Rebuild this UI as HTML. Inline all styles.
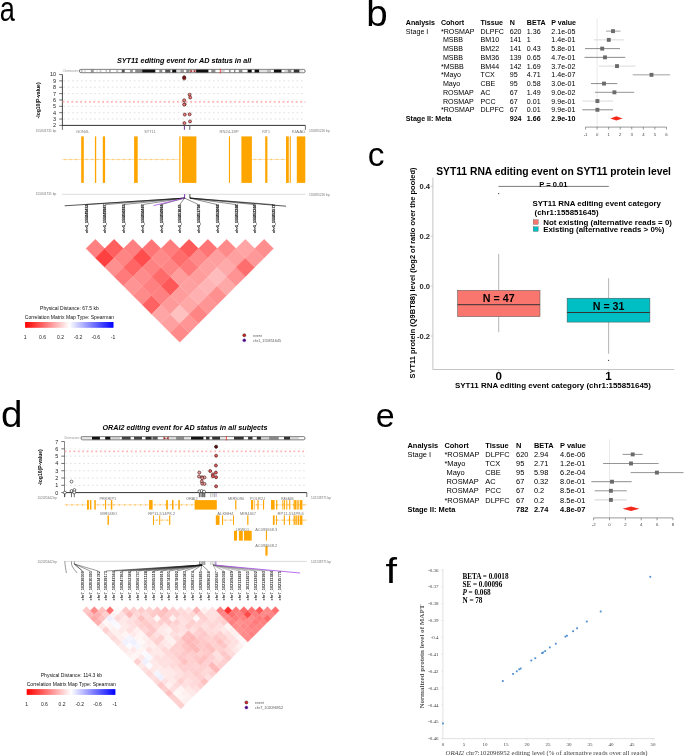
<!DOCTYPE html>
<html><head><meta charset="utf-8"><style>
html,body{margin:0;padding:0;background:#fff;overflow:hidden}
svg{display:block;filter:blur(0.22px);font-family:"Liberation Sans",sans-serif}
</style></head><body>
<svg width="685" height="756" viewBox="0 0 685 756">
<rect width="685" height="756" fill="#fff"/>
<text transform="translate(-0.3,21) scale(0.77,1)" font-size="35.3">a</text>
<text transform="translate(366.3,26.3) scale(1.07,1)" font-size="36">b</text>
<text x="367.8" y="166.3" font-size="33.5">c</text>
<text transform="translate(0.9,427.4) scale(1.07,1)" font-size="36">d</text>
<text x="375.8" y="427.3" font-size="34">e</text>
<text transform="translate(385.6,583) scale(1.15,1)" font-size="36">f</text>
<text x="405.8" y="24.96" font-size="7.1" font-weight="bold">Analysis</text>
<text x="440.9" y="24.96" font-size="7.1" font-weight="bold">Cohort</text>
<text x="480.6" y="24.96" font-size="7.1" font-weight="bold">Tissue</text>
<text x="509.7" y="24.96" font-size="7.1" font-weight="bold">N</text>
<text x="526.8" y="24.96" font-size="7.1" font-weight="bold">BETA</text>
<text x="551.3" y="24.96" font-size="7.1" font-weight="bold">P value</text>
<text x="405.8" y="33.7" font-size="7.1">Stage I</text>
<text x="440.9" y="33.7" font-size="7.1">*ROSMAP</text>
<text x="480.6" y="33.7" font-size="7.1">DLPFC</text>
<text x="509.7" y="33.7" font-size="7.1">620</text>
<text x="526.8" y="33.7" font-size="7.1">1.36</text>
<text x="551.3" y="33.7" font-size="7.1">2.1e-05</text>
<text x="442.89" y="42.44" font-size="7.1">MSBB</text>
<text x="480.6" y="42.44" font-size="7.1">BM10</text>
<text x="509.7" y="42.44" font-size="7.1">141</text>
<text x="526.8" y="42.44" font-size="7.1">1</text>
<text x="551.3" y="42.44" font-size="7.1">1.4e-01</text>
<text x="442.89" y="51.18" font-size="7.1">MSBB</text>
<text x="480.6" y="51.18" font-size="7.1">BM22</text>
<text x="509.7" y="51.18" font-size="7.1">141</text>
<text x="526.8" y="51.18" font-size="7.1">0.43</text>
<text x="551.3" y="51.18" font-size="7.1">5.8e-01</text>
<text x="442.89" y="59.92" font-size="7.1">MSBB</text>
<text x="480.6" y="59.92" font-size="7.1">BM36</text>
<text x="509.7" y="59.92" font-size="7.1">139</text>
<text x="526.8" y="59.92" font-size="7.1">0.65</text>
<text x="551.3" y="59.92" font-size="7.1">4.7e-01</text>
<text x="440.9" y="68.66" font-size="7.1">*MSBB</text>
<text x="480.6" y="68.66" font-size="7.1">BM44</text>
<text x="509.7" y="68.66" font-size="7.1">142</text>
<text x="526.8" y="68.66" font-size="7.1">1.69</text>
<text x="551.3" y="68.66" font-size="7.1">3.7e-02</text>
<text x="440.9" y="77.4" font-size="7.1">*Mayo</text>
<text x="480.6" y="77.4" font-size="7.1">TCX</text>
<text x="509.7" y="77.4" font-size="7.1">95</text>
<text x="526.8" y="77.4" font-size="7.1">4.71</text>
<text x="551.3" y="77.4" font-size="7.1">1.4e-07</text>
<text x="442.89" y="86.14" font-size="7.1">Mayo</text>
<text x="480.6" y="86.14" font-size="7.1">CBE</text>
<text x="509.7" y="86.14" font-size="7.1">95</text>
<text x="526.8" y="86.14" font-size="7.1">0.58</text>
<text x="551.3" y="86.14" font-size="7.1">3.0e-01</text>
<text x="442.89" y="94.88" font-size="7.1">ROSMAP</text>
<text x="480.6" y="94.88" font-size="7.1">AC</text>
<text x="509.7" y="94.88" font-size="7.1">67</text>
<text x="526.8" y="94.88" font-size="7.1">1.49</text>
<text x="551.3" y="94.88" font-size="7.1">9.0e-02</text>
<text x="442.89" y="103.62" font-size="7.1">ROSMAP</text>
<text x="480.6" y="103.62" font-size="7.1">PCC</text>
<text x="509.7" y="103.62" font-size="7.1">67</text>
<text x="526.8" y="103.62" font-size="7.1">0.01</text>
<text x="551.3" y="103.62" font-size="7.1">9.9e-01</text>
<text x="440.9" y="112.36" font-size="7.1">*ROSMAP</text>
<text x="480.6" y="112.36" font-size="7.1">DLPFC</text>
<text x="509.7" y="112.36" font-size="7.1">67</text>
<text x="526.8" y="112.36" font-size="7.1">0.01</text>
<text x="551.3" y="112.36" font-size="7.1">9.9e-01</text>
<text x="405.8" y="121.1" font-size="7.1" font-weight="bold">Stage II: Meta</text>
<text x="509.7" y="121.1" font-size="7.1" font-weight="bold">924</text>
<text x="526.8" y="121.1" font-size="7.1" font-weight="bold">1.66</text>
<text x="551.3" y="121.1" font-size="7.1" font-weight="bold">2.9e-10</text>
<line x1="597.1" y1="18.5" x2="597.1" y2="127.1" stroke="#d9d9d9" stroke-width="0.6"/>
<line x1="585.54" y1="127.1" x2="666.46" y2="127.1" stroke="#555" stroke-width="0.6"/>
<line x1="585.54" y1="127.1" x2="585.54" y2="129.5" stroke="#555" stroke-width="0.6"/>
<text x="585.54" y="135.5" font-size="4.3" text-anchor="middle" fill="#444">-1</text>
<line x1="597.1" y1="127.1" x2="597.1" y2="129.5" stroke="#555" stroke-width="0.6"/>
<text x="597.1" y="135.5" font-size="4.3" text-anchor="middle" fill="#444">0</text>
<line x1="608.66" y1="127.1" x2="608.66" y2="129.5" stroke="#555" stroke-width="0.6"/>
<text x="608.66" y="135.5" font-size="4.3" text-anchor="middle" fill="#444">1</text>
<line x1="620.22" y1="127.1" x2="620.22" y2="129.5" stroke="#555" stroke-width="0.6"/>
<text x="620.22" y="135.5" font-size="4.3" text-anchor="middle" fill="#444">2</text>
<line x1="631.78" y1="127.1" x2="631.78" y2="129.5" stroke="#555" stroke-width="0.6"/>
<text x="631.78" y="135.5" font-size="4.3" text-anchor="middle" fill="#444">3</text>
<line x1="643.34" y1="127.1" x2="643.34" y2="129.5" stroke="#555" stroke-width="0.6"/>
<text x="643.34" y="135.5" font-size="4.3" text-anchor="middle" fill="#444">4</text>
<line x1="654.9" y1="127.1" x2="654.9" y2="129.5" stroke="#555" stroke-width="0.6"/>
<text x="654.9" y="135.5" font-size="4.3" text-anchor="middle" fill="#444">5</text>
<line x1="666.46" y1="127.1" x2="666.46" y2="129.5" stroke="#555" stroke-width="0.6"/>
<text x="666.46" y="135.5" font-size="4.3" text-anchor="middle" fill="#444">6</text>
<line x1="606" y1="31.14" x2="620.4" y2="31.14" stroke="#8a8a8a" stroke-width="0.8"/>
<rect x="611.05" y="29.19" width="3.9" height="3.9" fill="#6b6b6b"/>
<line x1="594" y1="39.88" x2="624.3" y2="39.88" stroke="#cfcfcf" stroke-width="0.8"/>
<rect x="606.85" y="37.93" width="3.9" height="3.9" fill="#6b6b6b"/>
<line x1="585" y1="48.62" x2="620" y2="48.62" stroke="#6e6e6e" stroke-width="0.8"/>
<rect x="600.25" y="46.67" width="3.9" height="3.9" fill="#6b6b6b"/>
<line x1="584.5" y1="57.36" x2="625.3" y2="57.36" stroke="#6e6e6e" stroke-width="0.8"/>
<rect x="603.05" y="55.41" width="3.9" height="3.9" fill="#6b6b6b"/>
<line x1="598.9" y1="66.1" x2="635.3" y2="66.1" stroke="#cfcfcf" stroke-width="0.8"/>
<rect x="615.05" y="64.15" width="3.9" height="3.9" fill="#6b6b6b"/>
<line x1="632.7" y1="74.84" x2="670.2" y2="74.84" stroke="#8a8a8a" stroke-width="0.8"/>
<rect x="649.55" y="72.89" width="3.9" height="3.9" fill="#6b6b6b"/>
<line x1="591" y1="83.58" x2="617.3" y2="83.58" stroke="#6e6e6e" stroke-width="0.8"/>
<rect x="602.05" y="81.63" width="3.9" height="3.9" fill="#6b6b6b"/>
<line x1="595" y1="92.32" x2="634.2" y2="92.32" stroke="#7a7a7a" stroke-width="0.8"/>
<rect x="612.45" y="90.37" width="3.9" height="3.9" fill="#6b6b6b"/>
<line x1="582.3" y1="101.06" x2="613" y2="101.06" stroke="#cfcfcf" stroke-width="0.8"/>
<rect x="595.45" y="99.11" width="3.9" height="3.9" fill="#6b6b6b"/>
<line x1="582.3" y1="109.8" x2="613" y2="109.8" stroke="#6e6e6e" stroke-width="0.8"/>
<rect x="595.45" y="107.85" width="3.9" height="3.9" fill="#6b6b6b"/>
<polygon points="610.3,118.4 616.3,116.2 622.6,118.4 616.3,120.6" fill="#f4281b"/>
<text x="407.5" y="447.98" font-size="7.45" font-weight="bold">Analysis</text>
<text x="444.4" y="447.98" font-size="7.45" font-weight="bold">Cohort</text>
<text x="485.3" y="447.98" font-size="7.45" font-weight="bold">Tissue</text>
<text x="516.1" y="447.98" font-size="7.45" font-weight="bold">N</text>
<text x="533.9" y="447.98" font-size="7.45" font-weight="bold">BETA</text>
<text x="560.1" y="447.98" font-size="7.45" font-weight="bold">P value</text>
<text x="407.5" y="457.08" font-size="7.45">Stage I</text>
<text x="444.4" y="457.08" font-size="7.45">*ROSMAP</text>
<text x="485.3" y="457.08" font-size="7.45">DLPFC</text>
<text x="516.1" y="457.08" font-size="7.45">620</text>
<text x="533.9" y="457.08" font-size="7.45">2.94</text>
<text x="560.1" y="457.08" font-size="7.45">4.6e-06</text>
<text x="444.4" y="466.18" font-size="7.45">*Mayo</text>
<text x="485.3" y="466.18" font-size="7.45">TCX</text>
<text x="516.1" y="466.18" font-size="7.45">95</text>
<text x="533.9" y="466.18" font-size="7.45">2.71</text>
<text x="560.1" y="466.18" font-size="7.45">1.2e-01</text>
<text x="446.49" y="475.28" font-size="7.45">Mayo</text>
<text x="485.3" y="475.28" font-size="7.45">CBE</text>
<text x="516.1" y="475.28" font-size="7.45">95</text>
<text x="533.9" y="475.28" font-size="7.45">5.98</text>
<text x="560.1" y="475.28" font-size="7.45">6.2e-04</text>
<text x="446.49" y="484.38" font-size="7.45">ROSMAP</text>
<text x="485.3" y="484.38" font-size="7.45">AC</text>
<text x="516.1" y="484.38" font-size="7.45">67</text>
<text x="533.9" y="484.38" font-size="7.45">0.32</text>
<text x="560.1" y="484.38" font-size="7.45">8.0e-01</text>
<text x="446.49" y="493.48" font-size="7.45">ROSMAP</text>
<text x="485.3" y="493.48" font-size="7.45">PCC</text>
<text x="516.1" y="493.48" font-size="7.45">67</text>
<text x="533.9" y="493.48" font-size="7.45">0.2</text>
<text x="560.1" y="493.48" font-size="7.45">8.5e-01</text>
<text x="444.4" y="502.58" font-size="7.45">*ROSMAP</text>
<text x="485.3" y="502.58" font-size="7.45">DLPFC</text>
<text x="516.1" y="502.58" font-size="7.45">67</text>
<text x="533.9" y="502.58" font-size="7.45">0.2</text>
<text x="560.1" y="502.58" font-size="7.45">8.5e-01</text>
<text x="407.5" y="511.68" font-size="7.45" font-weight="bold">Stage II: Meta</text>
<text x="516.1" y="511.68" font-size="7.45" font-weight="bold">782</text>
<text x="533.9" y="511.68" font-size="7.45" font-weight="bold">2.74</text>
<text x="560.1" y="511.68" font-size="7.45" font-weight="bold">4.8e-07</text>
<line x1="609.5" y1="439.5" x2="609.5" y2="517.9" stroke="#d9d9d9" stroke-width="0.6"/>
<line x1="593.64" y1="517.9" x2="672.94" y2="517.9" stroke="#555" stroke-width="0.6"/>
<line x1="593.64" y1="517.9" x2="593.64" y2="520.3" stroke="#555" stroke-width="0.6"/>
<text x="593.64" y="526.3" font-size="4.3" text-anchor="middle" fill="#444">-2</text>
<line x1="609.5" y1="517.9" x2="609.5" y2="520.3" stroke="#555" stroke-width="0.6"/>
<text x="609.5" y="526.3" font-size="4.3" text-anchor="middle" fill="#444">0</text>
<line x1="625.36" y1="517.9" x2="625.36" y2="520.3" stroke="#555" stroke-width="0.6"/>
<text x="625.36" y="526.3" font-size="4.3" text-anchor="middle" fill="#444">2</text>
<line x1="641.22" y1="517.9" x2="641.22" y2="520.3" stroke="#555" stroke-width="0.6"/>
<text x="641.22" y="526.3" font-size="4.3" text-anchor="middle" fill="#444">4</text>
<line x1="657.08" y1="517.9" x2="657.08" y2="520.3" stroke="#555" stroke-width="0.6"/>
<text x="657.08" y="526.3" font-size="4.3" text-anchor="middle" fill="#444">6</text>
<line x1="672.94" y1="517.9" x2="672.94" y2="520.3" stroke="#555" stroke-width="0.6"/>
<text x="672.94" y="526.3" font-size="4.3" text-anchor="middle" fill="#444">8</text>
<line x1="622.6" y1="454.4" x2="642.7" y2="454.4" stroke="#7a7a7a" stroke-width="0.8"/>
<rect x="630.75" y="452.45" width="3.9" height="3.9" fill="#6b6b6b"/>
<line x1="603.1" y1="463.5" x2="658.6" y2="463.5" stroke="#7a7a7a" stroke-width="0.8"/>
<rect x="629.05" y="461.55" width="3.9" height="3.9" fill="#6b6b6b"/>
<line x1="630.6" y1="472.6" x2="683.5" y2="472.6" stroke="#7a7a7a" stroke-width="0.8"/>
<rect x="654.95" y="470.65" width="3.9" height="3.9" fill="#6b6b6b"/>
<line x1="591.4" y1="481.7" x2="631.7" y2="481.7" stroke="#6e6e6e" stroke-width="0.8"/>
<rect x="610.05" y="479.75" width="3.9" height="3.9" fill="#6b6b6b"/>
<line x1="594.6" y1="490.8" x2="626.8" y2="490.8" stroke="#7a7a7a" stroke-width="0.8"/>
<rect x="608.95" y="488.85" width="3.9" height="3.9" fill="#6b6b6b"/>
<line x1="594.6" y1="499.9" x2="626.8" y2="499.9" stroke="#c8c8c8" stroke-width="0.8"/>
<rect x="608.95" y="497.95" width="3.9" height="3.9" fill="#6b6b6b"/>
<polygon points="622.6,508.8 631,506.6 639.5,508.8 631,511" fill="#f4281b"/>
<text x="436.2" y="175.2" font-size="10.3" font-weight="bold" textLength="234.8" lengthAdjust="spacingAndGlyphs">SYT11 RNA editing event on SYT11 protein level</text>
<line x1="432.9" y1="177.6" x2="432.9" y2="369.9" stroke="#c4c4c4" stroke-width="1"/>
<line x1="433.1" y1="369.5" x2="674.2" y2="369.5" stroke="#bdbdbd" stroke-width="0.9"/>
<line x1="430.8" y1="186.3" x2="432.9" y2="186.3" stroke="#c4c4c4" stroke-width="0.9"/>
<text x="430" y="189" font-size="7.6" font-weight="bold" text-anchor="end" fill="#1e1e1e">0.4</text>
<line x1="430.8" y1="236.2" x2="432.9" y2="236.2" stroke="#c4c4c4" stroke-width="0.9"/>
<text x="430" y="238.9" font-size="7.6" font-weight="bold" text-anchor="end" fill="#1e1e1e">0.2</text>
<line x1="430.8" y1="286.1" x2="432.9" y2="286.1" stroke="#c4c4c4" stroke-width="0.9"/>
<text x="430" y="288.8" font-size="7.6" font-weight="bold" text-anchor="end" fill="#1e1e1e">0.0</text>
<line x1="430.8" y1="336" x2="432.9" y2="336" stroke="#c4c4c4" stroke-width="0.9"/>
<text x="430" y="338.7" font-size="7.6" font-weight="bold" text-anchor="end" fill="#1e1e1e">-0.2</text>
<line x1="498.7" y1="369.5" x2="498.7" y2="371.7" stroke="#bdbdbd" stroke-width="0.9"/>
<line x1="608.6" y1="369.5" x2="608.6" y2="371.7" stroke="#bdbdbd" stroke-width="0.9"/>
<text transform="translate(415.4,273.0) rotate(-90)" font-size="7.3" font-weight="bold" text-anchor="middle" textLength="211" lengthAdjust="spacingAndGlyphs">SYT11 protein (Q9BT88) level (log2 of ratio over the pooled)</text>
<text x="552.9" y="388.3" font-size="8" font-weight="bold" text-anchor="middle" textLength="196" lengthAdjust="spacingAndGlyphs">SYT11 RNA editing event category (chr1:155851645)</text>
<text x="498.7" y="380" font-size="11.6" font-weight="bold" text-anchor="middle">0</text>
<text x="608.6" y="380" font-size="11.6" font-weight="bold" text-anchor="middle">1</text>
<line x1="498.5" y1="186.4" x2="608.8" y2="186.4" stroke="#222" stroke-width="0.6"/>
<text x="539.2" y="187.2" font-size="7" font-weight="bold" textLength="28.3" lengthAdjust="spacingAndGlyphs">P = 0.01</text>
<text x="532.4" y="206" font-size="7.9" font-weight="bold">SYT11 RNA editing event category</text>
<text x="534.6" y="214.5" font-size="7.9" font-weight="bold">(chr1:155851645)</text>
<rect x="533.2" y="219.8" width="5" height="4.6" fill="#F8766D" stroke="#555" stroke-width="0.35"/>
<rect x="533.2" y="226.8" width="5" height="4.6" fill="#00BFC4" stroke="#555" stroke-width="0.35"/>
<text x="543.2" y="225.2" font-size="7.9" font-weight="bold">Not existing (alternative reads = 0)</text>
<text x="543.2" y="232.2" font-size="7.9" font-weight="bold">Existing (alternative reads &gt; 0%)</text>
<line x1="498.7" y1="253.9" x2="498.7" y2="290.4" stroke="#5a5a5a" stroke-width="0.45"/>
<line x1="498.7" y1="316.6" x2="498.7" y2="332.2" stroke="#5a5a5a" stroke-width="0.45"/>
<rect x="457.6" y="290.4" width="82.4" height="26.2" fill="#F8766D" stroke="#4d4d4d" stroke-width="0.5"/>
<line x1="457.6" y1="304.7" x2="540" y2="304.7" stroke="#333" stroke-width="1"/>
<circle cx="498.7" cy="193.6" r="0.6" fill="#222" stroke="none" stroke-width="0.5"/>
<text x="498.7" y="302.4" font-size="10.7" font-weight="bold" text-anchor="middle">N = 47</text>
<line x1="608.6" y1="278.2" x2="608.6" y2="298.2" stroke="#5a5a5a" stroke-width="0.45"/>
<line x1="608.6" y1="322.1" x2="608.6" y2="353.8" stroke="#5a5a5a" stroke-width="0.45"/>
<rect x="567.1" y="298.2" width="82.8" height="23.9" fill="#00BFC4" stroke="#4d4d4d" stroke-width="0.5"/>
<line x1="567.1" y1="312.5" x2="649.9" y2="312.5" stroke="#333" stroke-width="1"/>
<circle cx="608.6" cy="360.3" r="0.6" fill="#222" stroke="none" stroke-width="0.5"/>
<text x="608.6" y="310.2" font-size="10.7" font-weight="bold" text-anchor="middle">N = 31</text>
<line x1="442.9" y1="569" x2="442.9" y2="738.9" stroke="#d9d9d9" stroke-width="0.8"/>
<line x1="442.6" y1="738.6" x2="654.5" y2="738.6" stroke="#d9d9d9" stroke-width="0.8"/>
<line x1="441.2" y1="569.9" x2="442.9" y2="569.9" stroke="#d9d9d9" stroke-width="0.6"/>
<text x="438.6" y="571.6" font-size="5" text-anchor="end" font-family="Liberation Serif" fill="#404040">-0.36</text>
<line x1="441.2" y1="586.77" x2="442.9" y2="586.77" stroke="#d9d9d9" stroke-width="0.6"/>
<text x="438.6" y="588.47" font-size="5" text-anchor="end" font-family="Liberation Serif" fill="#404040">-0.37</text>
<line x1="441.2" y1="603.64" x2="442.9" y2="603.64" stroke="#d9d9d9" stroke-width="0.6"/>
<text x="438.6" y="605.34" font-size="5" text-anchor="end" font-family="Liberation Serif" fill="#404040">-0.38</text>
<line x1="441.2" y1="620.51" x2="442.9" y2="620.51" stroke="#d9d9d9" stroke-width="0.6"/>
<text x="438.6" y="622.21" font-size="5" text-anchor="end" font-family="Liberation Serif" fill="#404040">-0.39</text>
<line x1="441.2" y1="637.38" x2="442.9" y2="637.38" stroke="#d9d9d9" stroke-width="0.6"/>
<text x="438.6" y="639.08" font-size="5" text-anchor="end" font-family="Liberation Serif" fill="#404040">-0.4</text>
<line x1="441.2" y1="654.25" x2="442.9" y2="654.25" stroke="#d9d9d9" stroke-width="0.6"/>
<text x="438.6" y="655.95" font-size="5" text-anchor="end" font-family="Liberation Serif" fill="#404040">-0.41</text>
<line x1="441.2" y1="671.12" x2="442.9" y2="671.12" stroke="#d9d9d9" stroke-width="0.6"/>
<text x="438.6" y="672.82" font-size="5" text-anchor="end" font-family="Liberation Serif" fill="#404040">-0.42</text>
<line x1="441.2" y1="687.99" x2="442.9" y2="687.99" stroke="#d9d9d9" stroke-width="0.6"/>
<text x="438.6" y="689.69" font-size="5" text-anchor="end" font-family="Liberation Serif" fill="#404040">-0.43</text>
<line x1="441.2" y1="704.86" x2="442.9" y2="704.86" stroke="#d9d9d9" stroke-width="0.6"/>
<text x="438.6" y="706.56" font-size="5" text-anchor="end" font-family="Liberation Serif" fill="#404040">-0.44</text>
<line x1="441.2" y1="721.73" x2="442.9" y2="721.73" stroke="#d9d9d9" stroke-width="0.6"/>
<text x="438.6" y="723.43" font-size="5" text-anchor="end" font-family="Liberation Serif" fill="#404040">-0.45</text>
<line x1="441.2" y1="738.6" x2="442.9" y2="738.6" stroke="#d9d9d9" stroke-width="0.6"/>
<text x="438.6" y="740.3" font-size="5" text-anchor="end" font-family="Liberation Serif" fill="#404040">-0.46</text>
<line x1="442.9" y1="738.6" x2="442.9" y2="740.3" stroke="#d9d9d9" stroke-width="0.6"/>
<text x="442.9" y="746.1" font-size="5" text-anchor="middle" font-family="Liberation Serif" fill="#404040">0</text>
<line x1="463.9" y1="738.6" x2="463.9" y2="740.3" stroke="#d9d9d9" stroke-width="0.6"/>
<text x="463.9" y="746.1" font-size="5" text-anchor="middle" font-family="Liberation Serif" fill="#404040">5</text>
<line x1="484.9" y1="738.6" x2="484.9" y2="740.3" stroke="#d9d9d9" stroke-width="0.6"/>
<text x="484.9" y="746.1" font-size="5" text-anchor="middle" font-family="Liberation Serif" fill="#404040">10</text>
<line x1="505.9" y1="738.6" x2="505.9" y2="740.3" stroke="#d9d9d9" stroke-width="0.6"/>
<text x="505.9" y="746.1" font-size="5" text-anchor="middle" font-family="Liberation Serif" fill="#404040">15</text>
<line x1="526.9" y1="738.6" x2="526.9" y2="740.3" stroke="#d9d9d9" stroke-width="0.6"/>
<text x="526.9" y="746.1" font-size="5" text-anchor="middle" font-family="Liberation Serif" fill="#404040">20</text>
<line x1="547.9" y1="738.6" x2="547.9" y2="740.3" stroke="#d9d9d9" stroke-width="0.6"/>
<text x="547.9" y="746.1" font-size="5" text-anchor="middle" font-family="Liberation Serif" fill="#404040">25</text>
<line x1="568.9" y1="738.6" x2="568.9" y2="740.3" stroke="#d9d9d9" stroke-width="0.6"/>
<text x="568.9" y="746.1" font-size="5" text-anchor="middle" font-family="Liberation Serif" fill="#404040">30</text>
<line x1="589.9" y1="738.6" x2="589.9" y2="740.3" stroke="#d9d9d9" stroke-width="0.6"/>
<text x="589.9" y="746.1" font-size="5" text-anchor="middle" font-family="Liberation Serif" fill="#404040">35</text>
<line x1="610.9" y1="738.6" x2="610.9" y2="740.3" stroke="#d9d9d9" stroke-width="0.6"/>
<text x="610.9" y="746.1" font-size="5" text-anchor="middle" font-family="Liberation Serif" fill="#404040">40</text>
<line x1="631.9" y1="738.6" x2="631.9" y2="740.3" stroke="#d9d9d9" stroke-width="0.6"/>
<text x="631.9" y="746.1" font-size="5" text-anchor="middle" font-family="Liberation Serif" fill="#404040">45</text>
<line x1="652.9" y1="738.6" x2="652.9" y2="740.3" stroke="#d9d9d9" stroke-width="0.6"/>
<text x="652.9" y="746.1" font-size="5" text-anchor="middle" font-family="Liberation Serif" fill="#404040">50</text>
<text x="462.4" y="579.1" font-size="7.2" font-weight="bold" font-family="Liberation Serif">BETA = 0.0018</text>
<text x="462.4" y="587" font-size="7.2" font-weight="bold" font-family="Liberation Serif">SE = 0.00096</text>
<text x="462.4" y="594.9" font-size="7.2" font-weight="bold" font-family="Liberation Serif"><tspan font-style="italic">P</tspan> = 0.068</text>
<text x="462.4" y="602.8" font-size="7.2" font-weight="bold" font-family="Liberation Serif">N = 78</text>
<text transform="translate(424.0,656.6) rotate(-90)" font-size="7.0" font-weight="bold" font-family="Liberation Serif" fill="#595959" text-anchor="middle" textLength="104" lengthAdjust="spacingAndGlyphs">Normalized protein level of MAPT</text>
<text x="445.6" y="754.6" font-size="6.6" font-family="Liberation Serif" fill="#404040" textLength="202" lengthAdjust="spacingAndGlyphs"><tspan font-style="italic">ORAI2</tspan> chr7:102096952 editing level (% of alternative reads over all reads)</text>
<rect x="442.1" y="722.6" width="1.8" height="1.8" fill="#4f8fd0"/>
<rect x="501.9" y="680.1" width="1.8" height="1.8" fill="#4f8fd0"/>
<rect x="512.2" y="673" width="1.8" height="1.8" fill="#4f8fd0"/>
<rect x="515.9" y="670.4" width="1.8" height="1.8" fill="#4f8fd0"/>
<rect x="518.4" y="668.4" width="1.8" height="1.8" fill="#4f8fd0"/>
<rect x="519.8" y="667.6" width="1.8" height="1.8" fill="#4f8fd0"/>
<rect x="530.4" y="659.6" width="1.8" height="1.8" fill="#4f8fd0"/>
<rect x="534.4" y="657.3" width="1.8" height="1.8" fill="#4f8fd0"/>
<rect x="541.2" y="652.2" width="1.8" height="1.8" fill="#4f8fd0"/>
<rect x="542.3" y="651.6" width="1.8" height="1.8" fill="#4f8fd0"/>
<rect x="544.3" y="650.2" width="1.8" height="1.8" fill="#4f8fd0"/>
<rect x="548.9" y="646.5" width="1.8" height="1.8" fill="#4f8fd0"/>
<rect x="554.9" y="642.8" width="1.8" height="1.8" fill="#4f8fd0"/>
<rect x="564.5" y="635.7" width="1.8" height="1.8" fill="#4f8fd0"/>
<rect x="566" y="634.8" width="1.8" height="1.8" fill="#4f8fd0"/>
<rect x="572.2" y="630.3" width="1.8" height="1.8" fill="#4f8fd0"/>
<rect x="576.2" y="627.4" width="1.8" height="1.8" fill="#4f8fd0"/>
<rect x="585.9" y="620.6" width="1.8" height="1.8" fill="#4f8fd0"/>
<rect x="599.8" y="610.6" width="1.8" height="1.8" fill="#4f8fd0"/>
<rect x="649.4" y="575.9" width="1.8" height="1.8" fill="#4f8fd0"/>
<text x="184.15" y="63.2" font-size="7.26" font-weight="bold" font-style="italic" text-anchor="middle" textLength="134.5" lengthAdjust="spacingAndGlyphs">SYT11 editing event for AD status in all</text>
<text x="62.8" y="72.05" font-size="2.6" fill="#999">Chromosome 1</text>
<rect x="79.4" y="69.4" width="225.8" height="3.3" rx="1.65" fill="#fff" stroke="#555" stroke-width="0.4"/>
<rect x="80.9" y="69.6" width="1.8" height="2.9" fill="#c8c8c8"/>
<rect x="84.4" y="69.6" width="1.2" height="2.9" fill="#d0d0d0"/>
<rect x="90.8" y="69.6" width="3" height="2.9" fill="#9a9a9a"/>
<rect x="96.5" y="69.6" width="1.5" height="2.9" fill="#e0e0e0"/>
<rect x="99.6" y="69.6" width="1.8" height="2.9" fill="#c8c8c8"/>
<rect x="105.4" y="69.6" width="1.8" height="2.9" fill="#c8c8c8"/>
<rect x="109" y="69.6" width="1.7" height="2.9" fill="#b0b0b0"/>
<rect x="116" y="69.6" width="2.3" height="2.9" fill="#c8c8c8"/>
<rect x="121.8" y="69.6" width="2.9" height="2.9" fill="#555"/>
<rect x="130" y="69.6" width="2.9" height="2.9" fill="#9a9a9a"/>
<rect x="135.2" y="69.6" width="7" height="2.9" fill="#8a8a8a"/>
<rect x="142.2" y="69.6" width="13.1" height="2.9" fill="#0f0f0f"/>
<rect x="159.3" y="69.6" width="3" height="2.9" fill="#8a8a8a"/>
<rect x="165.2" y="69.6" width="5.2" height="2.9" fill="#555"/>
<rect x="172.2" y="69.6" width="4.1" height="2.9" fill="#0f0f0f"/>
<rect x="177" y="69.6" width="3.4" height="2.9" fill="#e0e0e0"/>
<rect x="180.4" y="69.6" width="3.5" height="2.9" fill="#9a9a9a"/>
<rect x="186.2" y="69.6" width="3.5" height="2.9" fill="#8a8a8a"/>
<rect x="196.1" y="69.6" width="12.3" height="2.9" fill="#0f0f0f"/>
<rect x="211.3" y="69.6" width="4.1" height="2.9" fill="#8a8a8a"/>
<rect x="221" y="69.6" width="3.7" height="2.9" fill="#d0d0d0"/>
<rect x="228.9" y="69.6" width="1.8" height="2.9" fill="#9a9a9a"/>
<rect x="234.2" y="69.6" width="1.1" height="2.9" fill="#666"/>
<rect x="238.8" y="69.6" width="3.6" height="2.9" fill="#8a8a8a"/>
<rect x="247.6" y="69.6" width="4.1" height="2.9" fill="#0f0f0f"/>
<rect x="254.6" y="69.6" width="4.7" height="2.9" fill="#0f0f0f"/>
<rect x="259.3" y="69.6" width="7.6" height="2.9" fill="#e0e0e0"/>
<rect x="266.9" y="69.6" width="4.1" height="2.9" fill="#bbbbbb"/>
<rect x="273.9" y="69.6" width="7.6" height="2.9" fill="#0f0f0f"/>
<rect x="284.4" y="69.6" width="3.5" height="2.9" fill="#d0d0d0"/>
<rect x="287.9" y="69.6" width="3.5" height="2.9" fill="#8a8a8a"/>
<rect x="293.7" y="69.6" width="5.9" height="2.9" fill="#333"/>
<rect x="299.6" y="69.6" width="3.4" height="2.9" fill="#e6e6e6"/>
<polygon points="190.3,69.4 192.9,71.05 190.3,72.7" fill="#a52a2a"/>
<polygon points="195.5,69.4 192.9,71.05 195.5,72.7" fill="#a52a2a"/>
<rect x="79.4" y="69.4" width="225.8" height="3.3" rx="1.65" fill="none" stroke="#444" stroke-width="0.45"/>
<line x1="220.3" y1="68.8" x2="220.3" y2="73.3" stroke="#e8221d" stroke-width="0.8"/>
<line x1="62.4" y1="74.52" x2="62.4" y2="125.8" stroke="#333" stroke-width="0.9"/>
<line x1="59.2" y1="125.4" x2="62.4" y2="125.4" stroke="#333" stroke-width="0.7"/>
<text x="56.1" y="127.35" font-size="5.5" text-anchor="end" fill="#222">2</text>
<line x1="59.2" y1="119.04" x2="62.4" y2="119.04" stroke="#333" stroke-width="0.7"/>
<text x="56.1" y="120.99" font-size="5.5" text-anchor="end" fill="#222">3</text>
<line x1="63.4" y1="119.04" x2="305.4" y2="119.04" stroke="#d2d2d2" stroke-width="0.7" stroke-dasharray="1.6,2.8"/>
<line x1="59.2" y1="112.68" x2="62.4" y2="112.68" stroke="#333" stroke-width="0.7"/>
<text x="56.1" y="114.63" font-size="5.5" text-anchor="end" fill="#222">4</text>
<line x1="63.4" y1="112.68" x2="305.4" y2="112.68" stroke="#d2d2d2" stroke-width="0.7" stroke-dasharray="1.6,2.8"/>
<line x1="59.2" y1="106.32" x2="62.4" y2="106.32" stroke="#333" stroke-width="0.7"/>
<text x="56.1" y="108.27" font-size="5.5" text-anchor="end" fill="#222">5</text>
<line x1="63.4" y1="106.32" x2="305.4" y2="106.32" stroke="#d2d2d2" stroke-width="0.7" stroke-dasharray="1.6,2.8"/>
<line x1="59.2" y1="99.96" x2="62.4" y2="99.96" stroke="#333" stroke-width="0.7"/>
<text x="56.1" y="101.91" font-size="5.5" text-anchor="end" fill="#222">6</text>
<line x1="63.4" y1="99.96" x2="305.4" y2="99.96" stroke="#e8e8e8" stroke-width="0.7" stroke-dasharray="1.6,2.8"/>
<line x1="59.2" y1="93.6" x2="62.4" y2="93.6" stroke="#333" stroke-width="0.7"/>
<text x="56.1" y="95.55" font-size="5.5" text-anchor="end" fill="#222">7</text>
<line x1="63.4" y1="93.6" x2="305.4" y2="93.6" stroke="#d2d2d2" stroke-width="0.7" stroke-dasharray="1.6,2.8"/>
<line x1="59.2" y1="87.24" x2="62.4" y2="87.24" stroke="#333" stroke-width="0.7"/>
<text x="56.1" y="89.19" font-size="5.5" text-anchor="end" fill="#222">8</text>
<line x1="63.4" y1="87.24" x2="305.4" y2="87.24" stroke="#d2d2d2" stroke-width="0.7" stroke-dasharray="1.6,2.8"/>
<line x1="59.2" y1="80.88" x2="62.4" y2="80.88" stroke="#333" stroke-width="0.7"/>
<text x="56.1" y="82.83" font-size="5.5" text-anchor="end" fill="#222">9</text>
<line x1="63.4" y1="80.88" x2="305.4" y2="80.88" stroke="#d2d2d2" stroke-width="0.7" stroke-dasharray="1.6,2.8"/>
<line x1="59.2" y1="74.52" x2="62.4" y2="74.52" stroke="#333" stroke-width="0.7"/>
<text x="56.1" y="76.47" font-size="5.5" text-anchor="end" fill="#222">10</text>
<line x1="62.6" y1="101.8" x2="305.4" y2="101.8" stroke="#ffb3b3" stroke-width="1.75" stroke-dasharray="1.75,2.65"/>
<text transform="translate(40.2,100.4) rotate(-90)" font-size="5.6" font-weight="bold" text-anchor="middle" textLength="36" lengthAdjust="spacingAndGlyphs">-log10(P-value)</text>
<line x1="62" y1="125.4" x2="305.4" y2="125.4" stroke="#333" stroke-width="1"/>
<line x1="305.4" y1="125.4" x2="305.4" y2="129.9" stroke="#333" stroke-width="0.7"/>
<line x1="62.4" y1="125.4" x2="62.4" y2="129.9" stroke="#333" stroke-width="0.7"/>
<line x1="184.4" y1="126" x2="184.4" y2="129.8" stroke="#5b1a8e" stroke-width="0.9"/>
<line x1="189.8" y1="126" x2="189.8" y2="129.8" stroke="#555" stroke-width="0.9"/>
<text x="56.2" y="131.6" font-size="2.8" text-anchor="end" fill="#777" textLength="20.4" lengthAdjust="spacingAndGlyphs">155841731 bp</text>
<text x="308.9" y="132.1" font-size="2.8" fill="#777" textLength="20.8" lengthAdjust="spacingAndGlyphs">155885216 bp</text>
<circle cx="184.2" cy="78.6" r="1.5" fill="#ee7a7a" stroke="#3a1010" stroke-width="0.6"/>
<circle cx="189.6" cy="94.7" r="1.5" fill="#ee7a7a" stroke="#3a1010" stroke-width="0.6"/>
<circle cx="190.2" cy="97.5" r="1.5" fill="#ee7a7a" stroke="#3a1010" stroke-width="0.6"/>
<circle cx="184.2" cy="100.3" r="1.5" fill="#ee7a7a" stroke="#3a1010" stroke-width="0.6"/>
<circle cx="184.6" cy="104.2" r="1.5" fill="#ee7a7a" stroke="#3a1010" stroke-width="0.6"/>
<circle cx="184.2" cy="104.6" r="1.5" fill="#ee7a7a" stroke="#3a1010" stroke-width="0.6"/>
<circle cx="184.8" cy="114.6" r="1.5" fill="#ee7a7a" stroke="#3a1010" stroke-width="0.6"/>
<circle cx="189.6" cy="114.3" r="1.5" fill="#ee7a7a" stroke="#3a1010" stroke-width="0.6"/>
<circle cx="190" cy="121.4" r="1.5" fill="#ee7a7a" stroke="#3a1010" stroke-width="0.6"/>
<circle cx="184.4" cy="123.1" r="1.5" fill="#ee7a7a" stroke="#3a1010" stroke-width="0.6"/>
<circle cx="184.2" cy="77.3" r="1.5" fill="#a01515" stroke="#1a0505" stroke-width="0.7"/>
<text x="75.9" y="133" font-size="4.3" fill="#7a7a7a" textLength="13.3" lengthAdjust="spacingAndGlyphs">GON4L</text>
<text x="144.2" y="133" font-size="4.3" fill="#7a7a7a" textLength="11.4" lengthAdjust="spacingAndGlyphs">SYT11</text>
<text x="219.6" y="133" font-size="4.3" fill="#7a7a7a" textLength="19" lengthAdjust="spacingAndGlyphs">RN24-18P</text>
<text x="262.3" y="133" font-size="4.3" fill="#7a7a7a" textLength="7.7" lengthAdjust="spacingAndGlyphs">RIT1</text>
<text x="291.7" y="133" font-size="4.3" fill="#7a7a7a" textLength="13.3" lengthAdjust="spacingAndGlyphs">KIAA0</text>
<line x1="62.2" y1="159.5" x2="81.2" y2="159.5" stroke="#ffd696" stroke-width="0.7"/>
<polygon points="63.9,159.5 65.65,158.4 65.65,160.6" fill="#ffc45e"/>
<polygon points="69.45,159.5 71.2,158.4 71.2,160.6" fill="#ffc45e"/>
<polygon points="75,159.5 76.75,158.4 76.75,160.6" fill="#ffc45e"/>
<line x1="83.8" y1="159.5" x2="102.8" y2="159.5" stroke="#ffd696" stroke-width="0.7"/>
<polygon points="85.5,159.5 87.25,158.4 87.25,160.6" fill="#ffc45e"/>
<polygon points="91.05,159.5 92.8,158.4 92.8,160.6" fill="#ffc45e"/>
<polygon points="96.6,159.5 98.35,158.4 98.35,160.6" fill="#ffc45e"/>
<line x1="105.1" y1="159.5" x2="134.1" y2="159.5" stroke="#ffd696" stroke-width="0.7"/>
<polygon points="108.6,159.5 106.85,158.4 106.85,160.6" fill="#ffc45e"/>
<polygon points="114.15,159.5 112.4,158.4 112.4,160.6" fill="#ffc45e"/>
<polygon points="119.7,159.5 117.95,158.4 117.95,160.6" fill="#ffc45e"/>
<polygon points="125.25,159.5 123.5,158.4 123.5,160.6" fill="#ffc45e"/>
<polygon points="130.8,159.5 129.05,158.4 129.05,160.6" fill="#ffc45e"/>
<line x1="137.7" y1="159.5" x2="179.3" y2="159.5" stroke="#ffd696" stroke-width="0.7"/>
<polygon points="141.2,159.5 139.45,158.4 139.45,160.6" fill="#ffc45e"/>
<polygon points="146.75,159.5 145,158.4 145,160.6" fill="#ffc45e"/>
<polygon points="152.3,159.5 150.55,158.4 150.55,160.6" fill="#ffc45e"/>
<polygon points="157.85,159.5 156.1,158.4 156.1,160.6" fill="#ffc45e"/>
<polygon points="163.4,159.5 161.65,158.4 161.65,160.6" fill="#ffc45e"/>
<polygon points="168.95,159.5 167.2,158.4 167.2,160.6" fill="#ffc45e"/>
<polygon points="174.5,159.5 172.75,158.4 172.75,160.6" fill="#ffc45e"/>
<line x1="251.9" y1="159.5" x2="286" y2="159.5" stroke="#ffd696" stroke-width="0.7"/>
<polygon points="253.6,159.5 255.35,158.4 255.35,160.6" fill="#ffc45e"/>
<polygon points="259.15,159.5 260.9,158.4 260.9,160.6" fill="#ffc45e"/>
<polygon points="264.7,159.5 266.45,158.4 266.45,160.6" fill="#ffc45e"/>
<polygon points="270.25,159.5 272,158.4 272,160.6" fill="#ffc45e"/>
<polygon points="275.8,159.5 277.55,158.4 277.55,160.6" fill="#ffc45e"/>
<polygon points="281.35,159.5 283.1,158.4 283.1,160.6" fill="#ffc45e"/>
<rect x="81.2" y="136.4" width="2.6" height="46.5" fill="#FFA500"/>
<rect x="94.9" y="136.4" width="1.3" height="46.5" fill="#FFA500"/>
<rect x="102.8" y="136.4" width="2.3" height="46.5" fill="#FFA500"/>
<rect x="134.1" y="136.4" width="3.6" height="46.5" fill="#FFA500"/>
<rect x="179.3" y="136.4" width="1.2" height="46.5" fill="#FFA500"/>
<rect x="182" y="136.4" width="14.4" height="46.5" fill="#FFA500"/>
<rect x="228.9" y="136.4" width="1.1" height="46.5" fill="#FFA500"/>
<rect x="241.4" y="136.4" width="10.5" height="46.5" fill="#FFA500"/>
<rect x="265.2" y="136.4" width="2.2" height="46.5" fill="#FFA500"/>
<rect x="286" y="136.4" width="2.8" height="46.5" fill="#FFA500"/>
<rect x="289.7" y="136.4" width="1.1" height="46.5" fill="#FFA500"/>
<rect x="296.8" y="136.4" width="8.5" height="46.5" fill="#FFA500"/>
<line x1="62" y1="194.3" x2="305.5" y2="194.3" stroke="#cfcfcf" stroke-width="0.7"/>
<text x="56.2" y="195.4" font-size="2.8" text-anchor="end" fill="#777" textLength="20.4" lengthAdjust="spacingAndGlyphs">155841731 bp</text>
<text x="308.9" y="195.6" font-size="2.8" fill="#777" textLength="20.8" lengthAdjust="spacingAndGlyphs">155885216 bp</text>
<line x1="184.6" y1="194.2" x2="184.6" y2="198.1" stroke="#6a1fb0" stroke-width="0.9"/>
<line x1="189.9" y1="194.2" x2="189.9" y2="198.1" stroke="#333" stroke-width="0.9"/>
<line x1="184.6" y1="198.1" x2="86" y2="204.6" stroke="#222" stroke-width="0.5"/>
<line x1="184.6" y1="198.1" x2="104.75" y2="204.6" stroke="#222" stroke-width="0.5"/>
<line x1="184.6" y1="198.1" x2="123.5" y2="204.6" stroke="#222" stroke-width="0.5"/>
<line x1="184.6" y1="198.1" x2="142.25" y2="204.6" stroke="#222" stroke-width="0.5"/>
<line x1="184.6" y1="198.1" x2="161" y2="204.6" stroke="#222" stroke-width="0.5"/>
<line x1="184.6" y1="198.1" x2="179.75" y2="204.6" stroke="#222" stroke-width="0.5"/>
<line x1="184.6" y1="198.1" x2="198.5" y2="204.6" stroke="#222" stroke-width="0.5"/>
<line x1="189.9" y1="198.1" x2="217.25" y2="204.6" stroke="#222" stroke-width="0.5"/>
<line x1="189.9" y1="198.1" x2="236" y2="204.6" stroke="#222" stroke-width="0.5"/>
<line x1="189.9" y1="198.1" x2="254.75" y2="204.6" stroke="#222" stroke-width="0.5"/>
<line x1="189.9" y1="198.1" x2="273.5" y2="204.6" stroke="#222" stroke-width="0.5"/>
<line x1="64.7" y1="205.8" x2="184.6" y2="198.1" stroke="#111" stroke-width="0.7"/>
<line x1="189.9" y1="198.1" x2="286" y2="206.2" stroke="#111" stroke-width="0.7"/>
<line x1="184.6" y1="198.1" x2="153.5" y2="205.6" stroke="#a64ce6" stroke-width="0.8"/>
<text transform="translate(87.5,204.5) rotate(-90)" font-size="4.0" font-weight="bold" text-anchor="end" fill="#1a1a1a" stroke="#1a1a1a" stroke-width="0.15" textLength="28.2" lengthAdjust="spacingAndGlyphs">chr1_155849453</text>
<text transform="translate(106.25,204.5) rotate(-90)" font-size="4.0" font-weight="bold" text-anchor="end" fill="#1a1a1a" stroke="#1a1a1a" stroke-width="0.15" textLength="28.2" lengthAdjust="spacingAndGlyphs">chr1_155849987</text>
<text transform="translate(125,204.5) rotate(-90)" font-size="4.0" font-weight="bold" text-anchor="end" fill="#1a1a1a" stroke="#1a1a1a" stroke-width="0.15" textLength="28.2" lengthAdjust="spacingAndGlyphs">chr1_155850263</text>
<text transform="translate(143.75,204.5) rotate(-90)" font-size="4.0" font-weight="bold" text-anchor="end" fill="#1a1a1a" stroke="#1a1a1a" stroke-width="0.15" textLength="28.2" lengthAdjust="spacingAndGlyphs">chr1_155850407</text>
<text transform="translate(162.5,204.5) rotate(-90)" font-size="4.0" font-weight="bold" text-anchor="end" fill="#1a1a1a" stroke="#1a1a1a" stroke-width="0.15" textLength="28.2" lengthAdjust="spacingAndGlyphs">chr1_155850964</text>
<text transform="translate(181.25,204.5) rotate(-90)" font-size="4.0" font-weight="bold" text-anchor="end" fill="#1a1a1a" stroke="#1a1a1a" stroke-width="0.15" textLength="28.2" lengthAdjust="spacingAndGlyphs">chr1_155851645</text>
<text transform="translate(200,204.5) rotate(-90)" font-size="4.0" font-weight="bold" text-anchor="end" fill="#1a1a1a" stroke="#1a1a1a" stroke-width="0.15" textLength="28.2" lengthAdjust="spacingAndGlyphs">chr1_155851794</text>
<text transform="translate(218.75,204.5) rotate(-90)" font-size="4.0" font-weight="bold" text-anchor="end" fill="#1a1a1a" stroke="#1a1a1a" stroke-width="0.15" textLength="28.2" lengthAdjust="spacingAndGlyphs">chr1_155852068</text>
<text transform="translate(237.5,204.5) rotate(-90)" font-size="4.0" font-weight="bold" text-anchor="end" fill="#1a1a1a" stroke="#1a1a1a" stroke-width="0.15" textLength="28.2" lengthAdjust="spacingAndGlyphs">chr1_155852208</text>
<text transform="translate(256.25,204.5) rotate(-90)" font-size="4.0" font-weight="bold" text-anchor="end" fill="#1a1a1a" stroke="#1a1a1a" stroke-width="0.15" textLength="28.2" lengthAdjust="spacingAndGlyphs">chr1_155852304</text>
<text transform="translate(275,204.5) rotate(-90)" font-size="4.0" font-weight="bold" text-anchor="end" fill="#1a1a1a" stroke="#1a1a1a" stroke-width="0.15" textLength="28.2" lengthAdjust="spacingAndGlyphs">chr1_155852572</text>
<polygon points="95.38,239.2 104.75,248.57 95.38,257.95 86,248.57" fill="#ff8080" stroke="#ff8080" stroke-width="0.3"/>
<polygon points="104.75,248.57 114.12,257.95 104.75,267.32 95.38,257.95" fill="#ff4040" stroke="#ff4040" stroke-width="0.3"/>
<polygon points="114.12,257.95 123.5,267.32 114.12,276.7 104.75,267.32" fill="#ff9090" stroke="#ff9090" stroke-width="0.3"/>
<polygon points="123.5,267.32 132.88,276.7 123.5,286.07 114.12,276.7" fill="#ff7a7a" stroke="#ff7a7a" stroke-width="0.3"/>
<polygon points="132.88,276.7 142.25,286.07 132.88,295.45 123.5,286.07" fill="#ff9494" stroke="#ff9494" stroke-width="0.3"/>
<polygon points="142.25,286.07 151.62,295.45 142.25,304.82 132.88,295.45" fill="#ff8a8a" stroke="#ff8a8a" stroke-width="0.3"/>
<polygon points="151.62,295.45 161,304.82 151.62,314.2 142.25,304.82" fill="#ff6262" stroke="#ff6262" stroke-width="0.3"/>
<polygon points="161,304.82 170.38,314.2 161,323.57 151.62,314.2" fill="#ffa5a5" stroke="#ffa5a5" stroke-width="0.3"/>
<polygon points="170.38,314.2 179.75,323.57 170.38,332.95 161,323.57" fill="#ffa0a0" stroke="#ffa0a0" stroke-width="0.3"/>
<polygon points="179.75,323.57 189.12,332.95 179.75,342.32 170.38,332.95" fill="#ff8a8a" stroke="#ff8a8a" stroke-width="0.3"/>
<polygon points="114.12,239.2 123.5,248.57 114.12,257.95 104.75,248.57" fill="#ff5f5f" stroke="#ff5f5f" stroke-width="0.3"/>
<polygon points="123.5,248.57 132.88,257.95 123.5,267.32 114.12,257.95" fill="#ff8585" stroke="#ff8585" stroke-width="0.3"/>
<polygon points="132.88,257.95 142.25,267.32 132.88,276.7 123.5,267.32" fill="#ff6565" stroke="#ff6565" stroke-width="0.3"/>
<polygon points="142.25,267.32 151.62,276.7 142.25,286.07 132.88,276.7" fill="#ff8c8c" stroke="#ff8c8c" stroke-width="0.3"/>
<polygon points="151.62,276.7 161,286.07 151.62,295.45 142.25,286.07" fill="#ff8080" stroke="#ff8080" stroke-width="0.3"/>
<polygon points="161,286.07 170.38,295.45 161,304.82 151.62,295.45" fill="#ff8080" stroke="#ff8080" stroke-width="0.3"/>
<polygon points="170.38,295.45 179.75,304.82 170.38,314.2 161,304.82" fill="#ff9a9a" stroke="#ff9a9a" stroke-width="0.3"/>
<polygon points="179.75,304.82 189.12,314.2 179.75,323.57 170.38,314.2" fill="#ffc0c0" stroke="#ffc0c0" stroke-width="0.3"/>
<polygon points="189.12,314.2 198.5,323.57 189.12,332.95 179.75,323.57" fill="#ff9595" stroke="#ff9595" stroke-width="0.3"/>
<polygon points="132.88,239.2 142.25,248.57 132.88,257.95 123.5,248.57" fill="#ff8080" stroke="#ff8080" stroke-width="0.3"/>
<polygon points="142.25,248.57 151.62,257.95 142.25,267.32 132.88,257.95" fill="#ff4c4c" stroke="#ff4c4c" stroke-width="0.3"/>
<polygon points="151.62,257.95 161,267.32 151.62,276.7 142.25,267.32" fill="#ff8282" stroke="#ff8282" stroke-width="0.3"/>
<polygon points="161,267.32 170.38,276.7 161,286.07 151.62,276.7" fill="#ff6a6a" stroke="#ff6a6a" stroke-width="0.3"/>
<polygon points="170.38,276.7 179.75,286.07 170.38,295.45 161,286.07" fill="#ff5858" stroke="#ff5858" stroke-width="0.3"/>
<polygon points="179.75,286.07 189.12,295.45 179.75,304.82 170.38,295.45" fill="#ff9c9c" stroke="#ff9c9c" stroke-width="0.3"/>
<polygon points="189.12,295.45 198.5,304.82 189.12,314.2 179.75,304.82" fill="#ffa8a8" stroke="#ffa8a8" stroke-width="0.3"/>
<polygon points="198.5,304.82 207.88,314.2 198.5,323.57 189.12,314.2" fill="#ff8585" stroke="#ff8585" stroke-width="0.3"/>
<polygon points="151.62,239.2 161,248.57 151.62,257.95 142.25,248.57" fill="#ff7575" stroke="#ff7575" stroke-width="0.3"/>
<polygon points="161,248.57 170.38,257.95 161,267.32 151.62,257.95" fill="#ff8a8a" stroke="#ff8a8a" stroke-width="0.3"/>
<polygon points="170.38,257.95 179.75,267.32 170.38,276.7 161,267.32" fill="#ff8585" stroke="#ff8585" stroke-width="0.3"/>
<polygon points="179.75,267.32 189.12,276.7 179.75,286.07 170.38,276.7" fill="#ff9c9c" stroke="#ff9c9c" stroke-width="0.3"/>
<polygon points="189.12,276.7 198.5,286.07 189.12,295.45 179.75,286.07" fill="#ffa0a0" stroke="#ffa0a0" stroke-width="0.3"/>
<polygon points="198.5,286.07 207.88,295.45 198.5,304.82 189.12,295.45" fill="#ffb0b0" stroke="#ffb0b0" stroke-width="0.3"/>
<polygon points="207.88,295.45 217.25,304.82 207.88,314.2 198.5,304.82" fill="#ff9595" stroke="#ff9595" stroke-width="0.3"/>
<polygon points="170.38,239.2 179.75,248.57 170.38,257.95 161,248.57" fill="#ff7d7d" stroke="#ff7d7d" stroke-width="0.3"/>
<polygon points="179.75,248.57 189.12,257.95 179.75,267.32 170.38,257.95" fill="#ff6c6c" stroke="#ff6c6c" stroke-width="0.3"/>
<polygon points="189.12,257.95 198.5,267.32 189.12,276.7 179.75,267.32" fill="#ff7a7a" stroke="#ff7a7a" stroke-width="0.3"/>
<polygon points="198.5,267.32 207.88,276.7 198.5,286.07 189.12,276.7" fill="#ff9c9c" stroke="#ff9c9c" stroke-width="0.3"/>
<polygon points="207.88,276.7 217.25,286.07 207.88,295.45 198.5,286.07" fill="#ffb5b5" stroke="#ffb5b5" stroke-width="0.3"/>
<polygon points="217.25,286.07 226.62,295.45 217.25,304.82 207.88,295.45" fill="#ff9090" stroke="#ff9090" stroke-width="0.3"/>
<polygon points="189.12,239.2 198.5,248.57 189.12,257.95 179.75,248.57" fill="#ff5a5a" stroke="#ff5a5a" stroke-width="0.3"/>
<polygon points="198.5,248.57 207.88,257.95 198.5,267.32 189.12,257.95" fill="#ff8888" stroke="#ff8888" stroke-width="0.3"/>
<polygon points="207.88,257.95 217.25,267.32 207.88,276.7 198.5,267.32" fill="#ffa0a0" stroke="#ffa0a0" stroke-width="0.3"/>
<polygon points="217.25,267.32 226.62,276.7 217.25,286.07 207.88,276.7" fill="#ffbcbc" stroke="#ffbcbc" stroke-width="0.3"/>
<polygon points="226.62,276.7 236,286.07 226.62,295.45 217.25,286.07" fill="#ffa8a8" stroke="#ffa8a8" stroke-width="0.3"/>
<polygon points="207.88,239.2 217.25,248.57 207.88,257.95 198.5,248.57" fill="#ff7575" stroke="#ff7575" stroke-width="0.3"/>
<polygon points="217.25,248.57 226.62,257.95 217.25,267.32 207.88,257.95" fill="#ff9e9e" stroke="#ff9e9e" stroke-width="0.3"/>
<polygon points="226.62,257.95 236,267.32 226.62,276.7 217.25,267.32" fill="#ffaaaa" stroke="#ffaaaa" stroke-width="0.3"/>
<polygon points="236,267.32 245.38,276.7 236,286.07 226.62,276.7" fill="#ff9393" stroke="#ff9393" stroke-width="0.3"/>
<polygon points="226.62,239.2 236,248.57 226.62,257.95 217.25,248.57" fill="#ff8a8a" stroke="#ff8a8a" stroke-width="0.3"/>
<polygon points="236,248.57 245.38,257.95 236,267.32 226.62,257.95" fill="#ffa0a0" stroke="#ffa0a0" stroke-width="0.3"/>
<polygon points="245.38,257.95 254.75,267.32 245.38,276.7 236,267.32" fill="#ff6e6e" stroke="#ff6e6e" stroke-width="0.3"/>
<polygon points="245.38,239.2 254.75,248.57 245.38,257.95 236,248.57" fill="#ffa5a5" stroke="#ffa5a5" stroke-width="0.3"/>
<polygon points="254.75,248.57 264.12,257.95 254.75,267.32 245.38,257.95" fill="#ff9898" stroke="#ff9898" stroke-width="0.3"/>
<polygon points="264.12,239.2 273.5,248.57 264.12,257.95 254.75,248.57" fill="#ff8e8e" stroke="#ff8e8e" stroke-width="0.3"/>
<text x="69.4" y="309.7" font-size="5" text-anchor="middle" fill="#111" textLength="58.6" lengthAdjust="spacingAndGlyphs">Physical Distance: 67.5 kb</text>
<text x="69.4" y="318.9" font-size="5" text-anchor="middle" fill="#111" textLength="89.2" lengthAdjust="spacingAndGlyphs">Correlation Matrix Map Type: Spearman</text>
<defs><linearGradient id="cm" x1="0" x2="1" y1="0" y2="0"><stop offset="0" stop-color="#ff0000"/><stop offset="0.5" stop-color="#ffffff"/><stop offset="1" stop-color="#0000ff"/></linearGradient></defs>
<rect x="25.1" y="322" width="88.4" height="5.8" fill="url(#cm)"/>
<text x="25.1" y="338.9" font-size="5" text-anchor="middle" fill="#222">1</text>
<text x="42.5" y="338.9" font-size="5" text-anchor="middle" fill="#222">0.6</text>
<text x="60.5" y="338.9" font-size="5" text-anchor="middle" fill="#222">0.2</text>
<text x="78.1" y="338.9" font-size="5" text-anchor="middle" fill="#222">-0.2</text>
<text x="95.8" y="338.9" font-size="5" text-anchor="middle" fill="#222">-0.6</text>
<text x="113.1" y="338.9" font-size="5" text-anchor="middle" fill="#222">-1</text>
<circle cx="244.3" cy="335.2" r="1.5" fill="#e0201b" stroke="#222" stroke-width="0.5"/>
<circle cx="244.3" cy="340.3" r="1.5" fill="#3b0a6e" stroke="#8b3fd9" stroke-width="0.5"/>
<text x="253" y="336.5" font-size="3.6" fill="#555">event</text>
<text x="253" y="341.6" font-size="3.6" fill="#555" textLength="28.1" lengthAdjust="spacingAndGlyphs">chr1_155851645</text>
<text x="185" y="430.4" font-size="7.2" font-weight="bold" font-style="italic" text-anchor="middle" textLength="165" lengthAdjust="spacingAndGlyphs">ORAI2 editing event for AD status in all subjects</text>
<text x="63.9" y="439.2" font-size="2.6" fill="#999">Chromosome 7</text>
<rect x="81.1" y="436.6" width="223.9" height="3.2" rx="1.6" fill="#fff" stroke="#555" stroke-width="0.4"/>
<rect x="82" y="436.8" width="9.5" height="2.8" fill="#e6e6e6"/>
<rect x="92" y="436.8" width="7.9" height="2.8" fill="#111"/>
<rect x="105.2" y="436.8" width="5.2" height="2.8" fill="#111"/>
<rect x="111.3" y="436.8" width="8.7" height="2.8" fill="#d0d0d0"/>
<rect x="121.8" y="436.8" width="8.8" height="2.8" fill="#444"/>
<rect x="134" y="436.8" width="8" height="2.8" fill="#444"/>
<rect x="145.5" y="436.8" width="6.1" height="2.8" fill="#2a2a2a"/>
<rect x="152.5" y="436.8" width="5.2" height="2.8" fill="#555"/>
<rect x="169.1" y="436.8" width="7" height="2.8" fill="#dcdcdc"/>
<rect x="176.1" y="436.8" width="7.9" height="2.8" fill="#8a8a8a"/>
<rect x="184" y="436.8" width="6.1" height="2.8" fill="#e0e0e0"/>
<rect x="191" y="436.8" width="12.4" height="2.8" fill="#111"/>
<rect x="206" y="436.8" width="3.5" height="2.8" fill="#333"/>
<rect x="212.2" y="436.8" width="7.8" height="2.8" fill="#333"/>
<rect x="220" y="436.8" width="5.3" height="2.8" fill="#e6e6e6"/>
<rect x="234" y="436.8" width="9.7" height="2.8" fill="#333"/>
<rect x="248.1" y="436.8" width="4.4" height="2.8" fill="#333"/>
<rect x="256.8" y="436.8" width="4.4" height="2.8" fill="#333"/>
<rect x="261.2" y="436.8" width="7.9" height="2.8" fill="#d0d0d0"/>
<rect x="269.1" y="436.8" width="9.6" height="2.8" fill="#8a8a8a"/>
<rect x="284" y="436.8" width="6.1" height="2.8" fill="#333"/>
<rect x="290.1" y="436.8" width="8.8" height="2.8" fill="#d6d6d6"/>
<polygon points="163.5,436.6 166.1,438.2 163.5,439.8" fill="#a52a2a"/>
<polygon points="168.7,436.6 166.1,438.2 168.7,439.8" fill="#a52a2a"/>
<rect x="81.1" y="436.6" width="223.9" height="3.2" rx="1.6" fill="none" stroke="#444" stroke-width="0.45"/>
<line x1="226.4" y1="436" x2="226.4" y2="440.4" stroke="#e8221d" stroke-width="0.8"/>
<line x1="64.5" y1="441.57" x2="64.5" y2="493" stroke="#8a8a8a" stroke-width="1"/>
<line x1="61.3" y1="492.6" x2="64.5" y2="492.6" stroke="#333" stroke-width="0.7"/>
<text x="58.4" y="494.55" font-size="5.5" text-anchor="end" fill="#222">0</text>
<line x1="61.3" y1="485.31" x2="64.5" y2="485.31" stroke="#333" stroke-width="0.7"/>
<text x="58.4" y="487.26" font-size="5.5" text-anchor="end" fill="#222">1</text>
<line x1="65.6" y1="485.31" x2="306.8" y2="485.31" stroke="#d2d2d2" stroke-width="0.7" stroke-dasharray="1.6,2.8"/>
<line x1="61.3" y1="478.02" x2="64.5" y2="478.02" stroke="#333" stroke-width="0.7"/>
<text x="58.4" y="479.97" font-size="5.5" text-anchor="end" fill="#222">2</text>
<line x1="65.6" y1="478.02" x2="306.8" y2="478.02" stroke="#d2d2d2" stroke-width="0.7" stroke-dasharray="1.6,2.8"/>
<line x1="61.3" y1="470.73" x2="64.5" y2="470.73" stroke="#333" stroke-width="0.7"/>
<text x="58.4" y="472.68" font-size="5.5" text-anchor="end" fill="#222">3</text>
<line x1="65.6" y1="470.73" x2="306.8" y2="470.73" stroke="#d2d2d2" stroke-width="0.7" stroke-dasharray="1.6,2.8"/>
<line x1="61.3" y1="463.44" x2="64.5" y2="463.44" stroke="#333" stroke-width="0.7"/>
<text x="58.4" y="465.39" font-size="5.5" text-anchor="end" fill="#222">4</text>
<line x1="65.6" y1="463.44" x2="306.8" y2="463.44" stroke="#d2d2d2" stroke-width="0.7" stroke-dasharray="1.6,2.8"/>
<line x1="61.3" y1="456.15" x2="64.5" y2="456.15" stroke="#333" stroke-width="0.7"/>
<text x="58.4" y="458.1" font-size="5.5" text-anchor="end" fill="#222">5</text>
<line x1="65.6" y1="456.15" x2="306.8" y2="456.15" stroke="#d2d2d2" stroke-width="0.7" stroke-dasharray="1.6,2.8"/>
<line x1="61.3" y1="448.86" x2="64.5" y2="448.86" stroke="#333" stroke-width="0.7"/>
<text x="58.4" y="450.81" font-size="5.5" text-anchor="end" fill="#222">6</text>
<line x1="65.6" y1="448.86" x2="306.8" y2="448.86" stroke="#e8e8e8" stroke-width="0.7" stroke-dasharray="1.6,2.8"/>
<line x1="61.3" y1="441.57" x2="64.5" y2="441.57" stroke="#333" stroke-width="0.7"/>
<text x="58.4" y="443.52" font-size="5.5" text-anchor="end" fill="#222">7</text>
<line x1="64.7" y1="451.3" x2="306.8" y2="451.3" stroke="#ffb3b3" stroke-width="1.75" stroke-dasharray="1.75,2.65"/>
<text transform="translate(42.2,467.3) rotate(-90)" font-size="5.6" font-weight="bold" text-anchor="middle" textLength="36" lengthAdjust="spacingAndGlyphs">-log10(P-value)</text>
<line x1="64" y1="492.6" x2="306.8" y2="492.6" stroke="#333" stroke-width="1"/>
<line x1="306.8" y1="492.6" x2="306.8" y2="497" stroke="#333" stroke-width="0.7"/>
<line x1="64.5" y1="492.6" x2="64.5" y2="497" stroke="#333" stroke-width="0.7"/>
<text x="56.9" y="498.9" font-size="2.8" text-anchor="end" fill="#777" textLength="19.3" lengthAdjust="spacingAndGlyphs">102025442 bp</text>
<text x="311.1" y="498.9" font-size="2.8" fill="#777" textLength="20" lengthAdjust="spacingAndGlyphs">102138771 bp</text>
<line x1="64.8" y1="493" x2="64.8" y2="497.2" stroke="#333" stroke-width="0.7"/>
<line x1="71.5" y1="493" x2="71.5" y2="497.2" stroke="#333" stroke-width="0.7"/>
<line x1="74.3" y1="493" x2="74.3" y2="497.2" stroke="#333" stroke-width="0.7"/>
<line x1="199.4" y1="493" x2="199.4" y2="497.2" stroke="#111" stroke-width="0.7"/>
<line x1="201" y1="493" x2="201" y2="497.2" stroke="#111" stroke-width="0.7"/>
<line x1="202.4" y1="493" x2="202.4" y2="497.2" stroke="#111" stroke-width="0.7"/>
<line x1="203.8" y1="493" x2="203.8" y2="497.2" stroke="#111" stroke-width="0.7"/>
<line x1="204.8" y1="493" x2="204.8" y2="497.2" stroke="#111" stroke-width="0.7"/>
<line x1="210.8" y1="493" x2="210.8" y2="497.2" stroke="#999" stroke-width="0.7"/>
<line x1="212.9" y1="493" x2="212.9" y2="497.2" stroke="#999" stroke-width="0.7"/>
<line x1="214.5" y1="493" x2="214.5" y2="497.2" stroke="#999" stroke-width="0.7"/>
<line x1="216.1" y1="493" x2="216.1" y2="497.2" stroke="#a070d0" stroke-width="0.7"/>
<circle cx="64.8" cy="492.6" r="1.45" fill="#ffffff" stroke="#222" stroke-width="0.6"/>
<circle cx="71.5" cy="481.6" r="1.45" fill="#ffffff" stroke="#222" stroke-width="0.6"/>
<circle cx="71.5" cy="491" r="1.45" fill="#ffffff" stroke="#222" stroke-width="0.6"/>
<circle cx="74.4" cy="490" r="1.45" fill="#ffffff" stroke="#222" stroke-width="0.6"/>
<circle cx="74.2" cy="492.4" r="1.45" fill="#ffffff" stroke="#222" stroke-width="0.6"/>
<circle cx="199.4" cy="491.3" r="1.45" fill="#ffffff" stroke="#222" stroke-width="0.6"/>
<circle cx="201.6" cy="491" r="1.45" fill="#ffffff" stroke="#222" stroke-width="0.6"/>
<circle cx="204" cy="491.6" r="1.45" fill="#ffffff" stroke="#222" stroke-width="0.6"/>
<circle cx="216.1" cy="455.7" r="1.5" fill="#e55a5a" stroke="#3a1010" stroke-width="0.6"/>
<circle cx="215.9" cy="465.5" r="1.5" fill="#e55a5a" stroke="#3a1010" stroke-width="0.6"/>
<circle cx="210.2" cy="471" r="1.5" fill="#e55a5a" stroke="#3a1010" stroke-width="0.6"/>
<circle cx="215.9" cy="472.6" r="1.5" fill="#e55a5a" stroke="#3a1010" stroke-width="0.6"/>
<circle cx="212.9" cy="474.4" r="1.5" fill="#e55a5a" stroke="#3a1010" stroke-width="0.6"/>
<circle cx="212.9" cy="476.3" r="1.5" fill="#e55a5a" stroke="#3a1010" stroke-width="0.6"/>
<circle cx="216.1" cy="477.2" r="1.5" fill="#e55a5a" stroke="#3a1010" stroke-width="0.6"/>
<circle cx="199.3" cy="472.6" r="1.5" fill="#eea0a0" stroke="#3a1010" stroke-width="0.6"/>
<circle cx="199" cy="476.5" r="1.5" fill="#eea0a0" stroke="#3a1010" stroke-width="0.6"/>
<circle cx="202" cy="477.2" r="1.5" fill="#eea0a0" stroke="#3a1010" stroke-width="0.6"/>
<circle cx="204.5" cy="477.4" r="1.5" fill="#eea0a0" stroke="#3a1010" stroke-width="0.6"/>
<circle cx="202.2" cy="478.2" r="1.5" fill="#eea0a0" stroke="#3a1010" stroke-width="0.6"/>
<circle cx="201.8" cy="481.4" r="1.5" fill="#eea0a0" stroke="#3a1010" stroke-width="0.6"/>
<circle cx="202.2" cy="483.7" r="1.5" fill="#eea0a0" stroke="#3a1010" stroke-width="0.6"/>
<circle cx="204.5" cy="483.9" r="1.5" fill="#eea0a0" stroke="#3a1010" stroke-width="0.6"/>
<circle cx="216.1" cy="486.3" r="1.5" fill="#e55a5a" stroke="#3a1010" stroke-width="0.6"/>
<circle cx="216.1" cy="446.7" r="1.5" fill="#7a0a0a" stroke="#111" stroke-width="0.8"/>
<line x1="64.4" y1="504.85" x2="87" y2="504.85" stroke="#ffd696" stroke-width="0.7"/>
<polygon points="67.9,504.85 66.15,503.75 66.15,505.95" fill="#ffc45e"/>
<polygon points="73.2,504.85 71.45,503.75 71.45,505.95" fill="#ffc45e"/>
<polygon points="78.5,504.85 76.75,503.75 76.75,505.95" fill="#ffc45e"/>
<polygon points="83.8,504.85 82.05,503.75 82.05,505.95" fill="#ffc45e"/>
<line x1="95.8" y1="504.85" x2="149" y2="504.85" stroke="#ffd696" stroke-width="0.7"/>
<polygon points="99.3,504.85 97.55,503.75 97.55,505.95" fill="#ffc45e"/>
<polygon points="104.6,504.85 102.85,503.75 102.85,505.95" fill="#ffc45e"/>
<polygon points="109.9,504.85 108.15,503.75 108.15,505.95" fill="#ffc45e"/>
<polygon points="115.2,504.85 113.45,503.75 113.45,505.95" fill="#ffc45e"/>
<polygon points="120.5,504.85 118.75,503.75 118.75,505.95" fill="#ffc45e"/>
<polygon points="125.8,504.85 124.05,503.75 124.05,505.95" fill="#ffc45e"/>
<polygon points="131.1,504.85 129.35,503.75 129.35,505.95" fill="#ffc45e"/>
<polygon points="136.4,504.85 134.65,503.75 134.65,505.95" fill="#ffc45e"/>
<polygon points="141.7,504.85 139.95,503.75 139.95,505.95" fill="#ffc45e"/>
<polygon points="147,504.85 145.25,503.75 145.25,505.95" fill="#ffc45e"/>
<line x1="152.6" y1="504.85" x2="194.6" y2="504.85" stroke="#ffd696" stroke-width="0.7"/>
<polygon points="156.1,504.85 154.35,503.75 154.35,505.95" fill="#ffc45e"/>
<polygon points="161.4,504.85 159.65,503.75 159.65,505.95" fill="#ffc45e"/>
<polygon points="166.7,504.85 164.95,503.75 164.95,505.95" fill="#ffc45e"/>
<polygon points="172,504.85 170.25,503.75 170.25,505.95" fill="#ffc45e"/>
<polygon points="177.3,504.85 175.55,503.75 175.55,505.95" fill="#ffc45e"/>
<polygon points="182.6,504.85 180.85,503.75 180.85,505.95" fill="#ffc45e"/>
<polygon points="187.9,504.85 186.15,503.75 186.15,505.95" fill="#ffc45e"/>
<polygon points="193.2,504.85 191.45,503.75 191.45,505.95" fill="#ffc45e"/>
<line x1="254.6" y1="504.85" x2="263" y2="504.85" stroke="#ffd696" stroke-width="0.7"/>
<polygon points="258.1,504.85 256.35,503.75 256.35,505.95" fill="#ffc45e"/>
<line x1="274.6" y1="504.85" x2="307.5" y2="504.85" stroke="#ffd696" stroke-width="0.7"/>
<polygon points="276.3,504.85 278.05,503.75 278.05,505.95" fill="#ffc45e"/>
<polygon points="281.6,504.85 283.35,503.75 283.35,505.95" fill="#ffc45e"/>
<polygon points="286.9,504.85 288.65,503.75 288.65,505.95" fill="#ffc45e"/>
<polygon points="292.2,504.85 293.95,503.75 293.95,505.95" fill="#ffc45e"/>
<polygon points="297.5,504.85 299.25,503.75 299.25,505.95" fill="#ffc45e"/>
<polygon points="302.8,504.85 304.55,503.75 304.55,505.95" fill="#ffc45e"/>
<rect x="87" y="500.1" width="1.9" height="9.5" fill="#FFA500"/>
<rect x="89.9" y="500.1" width="1.5" height="9.5" fill="#FFA500"/>
<rect x="94.3" y="500.1" width="1.5" height="9.5" fill="#FFA500"/>
<rect x="105" y="500.1" width="1.1" height="9.5" fill="#FFA500"/>
<rect x="110.8" y="500.1" width="1.5" height="9.5" fill="#FFA500"/>
<rect x="149.1" y="500.1" width="3.5" height="9.5" fill="#FFA500"/>
<rect x="166.2" y="500.1" width="1.7" height="9.5" fill="#FFA500"/>
<rect x="172" y="500.1" width="1.5" height="9.5" fill="#FFA500"/>
<rect x="178.3" y="500.1" width="1.5" height="9.5" fill="#FFA500"/>
<rect x="194.6" y="500.1" width="22.2" height="9.5" fill="#FFA500"/>
<rect x="235.2" y="500.1" width="1.2" height="9.5" fill="#FFA500"/>
<rect x="251" y="500.1" width="2" height="9.5" fill="#FFA500"/>
<rect x="253.8" y="500.1" width="0.8" height="9.5" fill="#FFA500"/>
<rect x="257.4" y="500.1" width="1.2" height="9.5" fill="#FFA500"/>
<rect x="263" y="500.1" width="1.1" height="9.5" fill="#FFA500"/>
<rect x="271" y="500.1" width="3.6" height="9.5" fill="#FFA500"/>
<rect x="276.1" y="500.1" width="1.2" height="9.5" fill="#FFA500"/>
<rect x="282.4" y="500.1" width="1" height="9.5" fill="#FFA500"/>
<rect x="284.1" y="500.1" width="1" height="9.5" fill="#FFA500"/>
<rect x="286.3" y="500.1" width="1" height="9.5" fill="#FFA500"/>
<rect x="289.2" y="500.1" width="1.1" height="9.5" fill="#FFA500"/>
<rect x="293.6" y="500.1" width="1.2" height="9.5" fill="#FFA500"/>
<rect x="295" y="500.1" width="1.5" height="9.5" fill="#FFA500"/>
<rect x="297.3" y="500.1" width="1.4" height="9.5" fill="#FFA500"/>
<rect x="299.7" y="500.1" width="2.7" height="9.5" fill="#FFA500"/>
<line x1="154" y1="520.15" x2="169.1" y2="520.15" stroke="#ffd696" stroke-width="0.7"/>
<polygon points="155.7,520.15 157.45,519.05 157.45,521.25" fill="#ffc45e"/>
<polygon points="161,520.15 162.75,519.05 162.75,521.25" fill="#ffc45e"/>
<polygon points="166.3,520.15 168.05,519.05 168.05,521.25" fill="#ffc45e"/>
<line x1="223.1" y1="520.15" x2="233" y2="520.15" stroke="#ffd696" stroke-width="0.7"/>
<polygon points="226.6,520.15 224.85,519.05 224.85,521.25" fill="#ffc45e"/>
<polygon points="231.9,520.15 230.15,519.05 230.15,521.25" fill="#ffc45e"/>
<line x1="274.6" y1="520.15" x2="307.5" y2="520.15" stroke="#ffd696" stroke-width="0.7"/>
<polygon points="276.3,520.15 278.05,519.05 278.05,521.25" fill="#ffc45e"/>
<polygon points="281.6,520.15 283.35,519.05 283.35,521.25" fill="#ffc45e"/>
<polygon points="286.9,520.15 288.65,519.05 288.65,521.25" fill="#ffc45e"/>
<polygon points="292.2,520.15 293.95,519.05 293.95,521.25" fill="#ffc45e"/>
<polygon points="297.5,520.15 299.25,519.05 299.25,521.25" fill="#ffc45e"/>
<polygon points="302.8,520.15 304.55,519.05 304.55,521.25" fill="#ffc45e"/>
<rect x="107.5" y="515.4" width="1.4" height="9.5" fill="#FFA500"/>
<rect x="153" y="515.4" width="1" height="9.5" fill="#FFA500"/>
<rect x="159.2" y="515.4" width="1" height="9.5" fill="#FFA500"/>
<rect x="169.1" y="515.4" width="1.2" height="9.5" fill="#FFA500"/>
<rect x="215.8" y="515.4" width="3.7" height="9.5" fill="#FFA500"/>
<rect x="222" y="515.4" width="1.1" height="9.5" fill="#FFA500"/>
<rect x="233" y="515.4" width="1" height="9.5" fill="#FFA500"/>
<rect x="247.2" y="515.4" width="1.2" height="9.5" fill="#FFA500"/>
<rect x="272.9" y="515.4" width="1.7" height="9.5" fill="#FFA500"/>
<rect x="276.1" y="515.4" width="0.9" height="9.5" fill="#FFA500"/>
<rect x="283.8" y="515.4" width="1.1" height="9.5" fill="#FFA500"/>
<rect x="289" y="515.4" width="1.1" height="9.5" fill="#FFA500"/>
<rect x="293.6" y="515.4" width="1.2" height="9.5" fill="#FFA500"/>
<rect x="295.4" y="515.4" width="1.4" height="9.5" fill="#FFA500"/>
<rect x="297.6" y="515.4" width="1.4" height="9.5" fill="#FFA500"/>
<rect x="299.7" y="515.4" width="2.7" height="9.5" fill="#FFA500"/>
<rect x="234" y="530.8" width="3" height="9.8" fill="#FFA500"/>
<rect x="238.9" y="530.8" width="3.9" height="9.8" fill="#FFA500"/>
<rect x="244" y="530.8" width="7.7" height="9.8" fill="#FFA500"/>
<rect x="265.9" y="530.8" width="1.1" height="9.8" fill="#FFA500"/>
<rect x="265.4" y="546.1" width="2.2" height="9.5" fill="#FFA500"/>
<text x="99.4" y="499.6" font-size="4.2" fill="#777" textLength="16.8" lengthAdjust="spacingAndGlyphs">PRKRIP1</text>
<text x="185.9" y="499.6" font-size="4.2" fill="#777" textLength="11.7" lengthAdjust="spacingAndGlyphs">ORAI2</text>
<text x="228" y="499.6" font-size="4.2" fill="#777" textLength="16.3" lengthAdjust="spacingAndGlyphs">MIR5090</text>
<text x="250.1" y="499.6" font-size="4.2" fill="#777" textLength="15" lengthAdjust="spacingAndGlyphs">POLR2J</text>
<text x="281.2" y="499.6" font-size="4.2" fill="#777" textLength="12.4" lengthAdjust="spacingAndGlyphs">RASA4B</text>
<text x="100.2" y="515.4" font-size="4.2" fill="#777" textLength="16.8" lengthAdjust="spacingAndGlyphs">MIR548O</text>
<text x="148.2" y="515.4" font-size="4.2" fill="#777" textLength="26.8" lengthAdjust="spacingAndGlyphs">RP11-514P8.2</text>
<text x="217.3" y="515.4" font-size="4.2" fill="#777" textLength="16" lengthAdjust="spacingAndGlyphs">ALKBH4</text>
<text x="240" y="515.4" font-size="4.2" fill="#777" textLength="16" lengthAdjust="spacingAndGlyphs">MIR4467</text>
<text x="277.6" y="515.4" font-size="4.2" fill="#777" textLength="26.2" lengthAdjust="spacingAndGlyphs">RP11-514P8.6</text>
<text x="236" y="531" font-size="4.2" fill="#777" textLength="13" lengthAdjust="spacingAndGlyphs">LRWD1</text>
<text x="255.2" y="531" font-size="4.2" fill="#777" textLength="22.1" lengthAdjust="spacingAndGlyphs">AC093668.3</text>
<text x="255.2" y="546.8" font-size="4.2" fill="#777" textLength="22.1" lengthAdjust="spacingAndGlyphs">AC093668.2</text>
<line x1="64" y1="561.4" x2="306.8" y2="561.4" stroke="#cfcfcf" stroke-width="0.7"/>
<text x="56.9" y="562.6" font-size="2.8" text-anchor="end" fill="#777" textLength="19.3" lengthAdjust="spacingAndGlyphs">102025442 bp</text>
<text x="311.1" y="562.6" font-size="2.8" fill="#777" textLength="20" lengthAdjust="spacingAndGlyphs">102138771 bp</text>
<path d="M64.8,561.4 C65,566 66,570 66.4,573 M71.5,561.4 L71.5,564 C72,568 76,571 77,573 M74.3,561.4 L74.3,564 L82.5,571" fill="none" stroke="#333" stroke-width="0.5"/>
<line x1="199.5" y1="561.4" x2="199.5" y2="565" stroke="#111" stroke-width="0.45"/>
<line x1="201" y1="561.4" x2="201" y2="565" stroke="#111" stroke-width="0.45"/>
<line x1="202.4" y1="561.4" x2="202.4" y2="565" stroke="#111" stroke-width="0.45"/>
<line x1="203.8" y1="561.4" x2="203.8" y2="565" stroke="#111" stroke-width="0.45"/>
<line x1="204.8" y1="561.4" x2="204.8" y2="565" stroke="#111" stroke-width="0.45"/>
<line x1="210.8" y1="561.4" x2="210.8" y2="565" stroke="#999" stroke-width="0.6"/>
<line x1="212.8" y1="561.4" x2="212.8" y2="565" stroke="#999" stroke-width="0.6"/>
<line x1="214.9" y1="561.4" x2="214.9" y2="565" stroke="#999" stroke-width="0.6"/>
<line x1="215.9" y1="561.4" x2="215.9" y2="565.2" stroke="#8a3fd9" stroke-width="0.7"/>
<line x1="74.3" y1="564" x2="82.5" y2="571" stroke="#222" stroke-width="0.45"/>
<line x1="74.3" y1="564" x2="90.37" y2="571" stroke="#222" stroke-width="0.45"/>
<line x1="74.3" y1="564" x2="98.24" y2="571" stroke="#222" stroke-width="0.45"/>
<line x1="202" y1="565" x2="106.11" y2="571" stroke="#111" stroke-width="0.45"/>
<line x1="202" y1="565" x2="113.98" y2="571" stroke="#111" stroke-width="0.45"/>
<line x1="202" y1="565" x2="121.85" y2="571" stroke="#111" stroke-width="0.45"/>
<line x1="202" y1="565" x2="129.72" y2="571" stroke="#111" stroke-width="0.45"/>
<line x1="202" y1="565" x2="137.59" y2="571" stroke="#111" stroke-width="0.45"/>
<line x1="202" y1="565" x2="145.46" y2="571" stroke="#111" stroke-width="0.45"/>
<line x1="202" y1="565" x2="153.33" y2="571" stroke="#111" stroke-width="0.45"/>
<line x1="202" y1="565" x2="161.2" y2="571" stroke="#111" stroke-width="0.45"/>
<line x1="202" y1="565" x2="169.07" y2="571" stroke="#111" stroke-width="0.45"/>
<line x1="202" y1="565" x2="176.94" y2="571" stroke="#111" stroke-width="0.45"/>
<line x1="202" y1="565" x2="184.81" y2="571" stroke="#111" stroke-width="0.45"/>
<line x1="202" y1="565" x2="192.68" y2="571" stroke="#111" stroke-width="0.45"/>
<line x1="202" y1="565" x2="200.55" y2="571" stroke="#111" stroke-width="0.45"/>
<line x1="202" y1="565" x2="208.42" y2="571" stroke="#111" stroke-width="0.45"/>
<line x1="213" y1="565" x2="216.29" y2="571" stroke="#666" stroke-width="0.45"/>
<line x1="213" y1="565" x2="224.16" y2="571" stroke="#666" stroke-width="0.45"/>
<line x1="213" y1="565" x2="232.03" y2="571" stroke="#666" stroke-width="0.45"/>
<line x1="213" y1="565" x2="239.9" y2="571" stroke="#666" stroke-width="0.45"/>
<line x1="213" y1="565" x2="247.77" y2="571" stroke="#666" stroke-width="0.45"/>
<line x1="213" y1="565" x2="255.64" y2="571" stroke="#666" stroke-width="0.45"/>
<line x1="213" y1="565" x2="263.51" y2="571" stroke="#666" stroke-width="0.45"/>
<line x1="213" y1="565" x2="271.38" y2="571" stroke="#666" stroke-width="0.45"/>
<line x1="215.9" y1="565.2" x2="300.1" y2="573" stroke="#a64ce6" stroke-width="0.8"/>
<text transform="translate(83.8,571.2) rotate(-90)" font-size="3.6" font-weight="bold" text-anchor="end" fill="#2a2a2a" textLength="29.2" lengthAdjust="spacingAndGlyphs">chr7_102026000</text>
<text transform="translate(91.67,571.2) rotate(-90)" font-size="3.6" font-weight="bold" text-anchor="end" fill="#2a2a2a" textLength="29.2" lengthAdjust="spacingAndGlyphs">chr7_102030391</text>
<text transform="translate(99.54,571.2) rotate(-90)" font-size="3.6" font-weight="bold" text-anchor="end" fill="#2a2a2a" textLength="29.2" lengthAdjust="spacingAndGlyphs">chr7_102034782</text>
<text transform="translate(107.41,571.2) rotate(-90)" font-size="3.6" font-weight="bold" text-anchor="end" fill="#2a2a2a" textLength="29.2" lengthAdjust="spacingAndGlyphs">chr7_102039173</text>
<text transform="translate(115.28,571.2) rotate(-90)" font-size="3.6" font-weight="bold" text-anchor="end" fill="#2a2a2a" textLength="29.2" lengthAdjust="spacingAndGlyphs">chr7_102043564</text>
<text transform="translate(123.15,571.2) rotate(-90)" font-size="3.6" font-weight="bold" text-anchor="end" fill="#2a2a2a" textLength="29.2" lengthAdjust="spacingAndGlyphs">chr7_102047955</text>
<text transform="translate(131.02,571.2) rotate(-90)" font-size="3.6" font-weight="bold" text-anchor="end" fill="#2a2a2a" textLength="29.2" lengthAdjust="spacingAndGlyphs">chr7_102052346</text>
<text transform="translate(138.89,571.2) rotate(-90)" font-size="3.6" font-weight="bold" text-anchor="end" fill="#2a2a2a" textLength="29.2" lengthAdjust="spacingAndGlyphs">chr7_102056737</text>
<text transform="translate(146.76,571.2) rotate(-90)" font-size="3.6" font-weight="bold" text-anchor="end" fill="#2a2a2a" textLength="29.2" lengthAdjust="spacingAndGlyphs">chr7_102061128</text>
<text transform="translate(154.63,571.2) rotate(-90)" font-size="3.6" font-weight="bold" text-anchor="end" fill="#2a2a2a" textLength="29.2" lengthAdjust="spacingAndGlyphs">chr7_102065519</text>
<text transform="translate(162.5,571.2) rotate(-90)" font-size="3.6" font-weight="bold" text-anchor="end" fill="#2a2a2a" textLength="29.2" lengthAdjust="spacingAndGlyphs">chr7_102069910</text>
<text transform="translate(170.37,571.2) rotate(-90)" font-size="3.6" font-weight="bold" text-anchor="end" fill="#2a2a2a" textLength="29.2" lengthAdjust="spacingAndGlyphs">chr7_102074301</text>
<text transform="translate(178.24,571.2) rotate(-90)" font-size="3.6" font-weight="bold" text-anchor="end" fill="#2a2a2a" textLength="29.2" lengthAdjust="spacingAndGlyphs">chr7_102078692</text>
<text transform="translate(186.11,571.2) rotate(-90)" font-size="3.6" font-weight="bold" text-anchor="end" fill="#2a2a2a" textLength="29.2" lengthAdjust="spacingAndGlyphs">chr7_102083083</text>
<text transform="translate(193.98,571.2) rotate(-90)" font-size="3.6" font-weight="bold" text-anchor="end" fill="#2a2a2a" textLength="29.2" lengthAdjust="spacingAndGlyphs">chr7_102087474</text>
<text transform="translate(201.85,571.2) rotate(-90)" font-size="3.6" font-weight="bold" text-anchor="end" fill="#2a2a2a" textLength="29.2" lengthAdjust="spacingAndGlyphs">chr7_102091865</text>
<text transform="translate(209.72,571.2) rotate(-90)" font-size="3.6" font-weight="bold" text-anchor="end" fill="#2a2a2a" textLength="29.2" lengthAdjust="spacingAndGlyphs">chr7_102096256</text>
<text transform="translate(217.59,571.2) rotate(-90)" font-size="3.6" font-weight="bold" text-anchor="end" fill="#2a2a2a" textLength="29.2" lengthAdjust="spacingAndGlyphs">chr7_102100647</text>
<text transform="translate(225.46,571.2) rotate(-90)" font-size="3.6" font-weight="bold" text-anchor="end" fill="#2a2a2a" textLength="29.2" lengthAdjust="spacingAndGlyphs">chr7_102105038</text>
<text transform="translate(233.33,571.2) rotate(-90)" font-size="3.6" font-weight="bold" text-anchor="end" fill="#2a2a2a" textLength="29.2" lengthAdjust="spacingAndGlyphs">chr7_102109429</text>
<text transform="translate(241.2,571.2) rotate(-90)" font-size="3.6" font-weight="bold" text-anchor="end" fill="#2a2a2a" textLength="29.2" lengthAdjust="spacingAndGlyphs">chr7_102113820</text>
<text transform="translate(249.07,571.2) rotate(-90)" font-size="3.6" font-weight="bold" text-anchor="end" fill="#2a2a2a" textLength="29.2" lengthAdjust="spacingAndGlyphs">chr7_102118211</text>
<text transform="translate(256.94,571.2) rotate(-90)" font-size="3.6" font-weight="bold" text-anchor="end" fill="#2a2a2a" textLength="29.2" lengthAdjust="spacingAndGlyphs">chr7_102122602</text>
<text transform="translate(264.81,571.2) rotate(-90)" font-size="3.6" font-weight="bold" text-anchor="end" fill="#2a2a2a" textLength="29.2" lengthAdjust="spacingAndGlyphs">chr7_102126993</text>
<text transform="translate(272.68,571.2) rotate(-90)" font-size="3.6" font-weight="bold" text-anchor="end" fill="#2a2a2a" textLength="29.2" lengthAdjust="spacingAndGlyphs">chr7_102131384</text>
<text transform="translate(280.55,571.2) rotate(-90)" font-size="3.6" font-weight="bold" text-anchor="end" fill="#2a2a2a" textLength="29.2" lengthAdjust="spacingAndGlyphs">chr7_102135775</text>
<polygon points="86.44,606.6 90.37,610.54 86.44,614.47 82.5,610.54" fill="#ffc8c8" stroke="#ffc8c8" stroke-width="0.3"/>
<polygon points="90.37,610.54 94.31,614.47 90.37,618.4 86.44,614.47" fill="#ffbcbc" stroke="#ffbcbc" stroke-width="0.3"/>
<polygon points="94.31,614.47 98.24,618.4 94.31,622.34 90.37,618.4" fill="#ffa8a8" stroke="#ffa8a8" stroke-width="0.3"/>
<polygon points="98.24,618.4 102.18,622.34 98.24,626.28 94.31,622.34" fill="#ffb0b0" stroke="#ffb0b0" stroke-width="0.3"/>
<polygon points="102.17,622.34 106.11,626.28 102.17,630.21 98.24,626.28" fill="#ffe8e8" stroke="#ffe8e8" stroke-width="0.3"/>
<polygon points="106.11,626.28 110.05,630.21 106.11,634.14 102.17,630.21" fill="#ffd0d0" stroke="#ffd0d0" stroke-width="0.3"/>
<polygon points="110.05,630.21 113.98,634.14 110.05,638.08 106.11,634.14" fill="#ffe0e0" stroke="#ffe0e0" stroke-width="0.3"/>
<polygon points="113.98,634.14 117.92,638.08 113.98,642.02 110.05,638.08" fill="#ffdada" stroke="#ffdada" stroke-width="0.3"/>
<polygon points="117.91,638.08 121.85,642.02 117.91,645.95 113.98,642.02" fill="#ffe0e0" stroke="#ffe0e0" stroke-width="0.3"/>
<polygon points="121.85,642.02 125.78,645.95 121.85,649.88 117.91,645.95" fill="#ffeaea" stroke="#ffeaea" stroke-width="0.3"/>
<polygon points="125.78,645.95 129.72,649.88 125.78,653.82 121.85,649.88" fill="#ffeaea" stroke="#ffeaea" stroke-width="0.3"/>
<polygon points="129.72,649.88 133.66,653.82 129.72,657.76 125.78,653.82" fill="#fff0f0" stroke="#fff0f0" stroke-width="0.3"/>
<polygon points="133.66,653.82 137.59,657.76 133.66,661.69 129.72,657.76" fill="#fff5f5" stroke="#fff5f5" stroke-width="0.3"/>
<polygon points="137.59,657.76 141.53,661.69 137.59,665.62 133.66,661.69" fill="#ffd0d0" stroke="#ffd0d0" stroke-width="0.3"/>
<polygon points="141.53,661.69 145.46,665.62 141.53,669.56 137.59,665.62" fill="#ffe8e8" stroke="#ffe8e8" stroke-width="0.3"/>
<polygon points="145.46,665.62 149.4,669.56 145.46,673.5 141.53,669.56" fill="#ffe0e0" stroke="#ffe0e0" stroke-width="0.3"/>
<polygon points="149.39,669.56 153.33,673.5 149.39,677.43 145.46,673.5" fill="#ffd8d8" stroke="#ffd8d8" stroke-width="0.3"/>
<polygon points="153.33,673.5 157.26,677.43 153.33,681.37 149.39,677.43" fill="#ffe0e0" stroke="#ffe0e0" stroke-width="0.3"/>
<polygon points="157.26,677.43 161.2,681.37 157.26,685.3 153.33,681.37" fill="#ffd8d8" stroke="#ffd8d8" stroke-width="0.3"/>
<polygon points="161.2,681.37 165.13,685.3 161.2,689.24 157.26,685.3" fill="#ffc8c8" stroke="#ffc8c8" stroke-width="0.3"/>
<polygon points="165.13,685.3 169.07,689.24 165.13,693.17 161.2,689.24" fill="#ffd0d0" stroke="#ffd0d0" stroke-width="0.3"/>
<polygon points="169.07,689.24 173,693.17 169.07,697.11 165.13,693.17" fill="#ffc0c0" stroke="#ffc0c0" stroke-width="0.3"/>
<polygon points="173,693.17 176.94,697.11 173,701.04 169.07,697.11" fill="#ffd0d0" stroke="#ffd0d0" stroke-width="0.3"/>
<polygon points="176.94,697.11 180.88,701.04 176.94,704.98 173,701.04" fill="#ffd0d0" stroke="#ffd0d0" stroke-width="0.3"/>
<polygon points="180.88,701.04 184.81,704.98 180.88,708.91 176.94,704.98" fill="#ffd0d0" stroke="#ffd0d0" stroke-width="0.3"/>
<polygon points="94.31,606.6 98.24,610.54 94.31,614.47 90.37,610.54" fill="#ff8a8a" stroke="#ff8a8a" stroke-width="0.3"/>
<polygon points="98.24,610.54 102.18,614.47 98.24,618.4 94.31,614.47" fill="#ffb0b0" stroke="#ffb0b0" stroke-width="0.3"/>
<polygon points="102.18,614.47 106.11,618.4 102.18,622.34 98.24,618.4" fill="#ffc0c0" stroke="#ffc0c0" stroke-width="0.3"/>
<polygon points="106.11,618.4 110.05,622.34 106.11,626.28 102.17,622.34" fill="#fff8f8" stroke="#fff8f8" stroke-width="0.3"/>
<polygon points="110.05,622.34 113.98,626.28 110.05,630.21 106.11,626.28" fill="#fff5f5" stroke="#fff5f5" stroke-width="0.3"/>
<polygon points="113.98,626.28 117.92,630.21 113.98,634.14 110.05,630.21" fill="#fff0f0" stroke="#fff0f0" stroke-width="0.3"/>
<polygon points="117.92,630.21 121.85,634.14 117.92,638.08 113.98,634.14" fill="#fff0f0" stroke="#fff0f0" stroke-width="0.3"/>
<polygon points="121.85,634.14 125.78,638.08 121.85,642.02 117.91,638.08" fill="#fff0f0" stroke="#fff0f0" stroke-width="0.3"/>
<polygon points="125.78,638.08 129.72,642.02 125.78,645.95 121.85,642.02" fill="#f2f2ff" stroke="#f2f2ff" stroke-width="0.3"/>
<polygon points="129.72,642.02 133.66,645.95 129.72,649.88 125.78,645.95" fill="#fafaff" stroke="#fafaff" stroke-width="0.3"/>
<polygon points="133.66,645.95 137.59,649.88 133.66,653.82 129.72,649.88" fill="#ffe8e8" stroke="#ffe8e8" stroke-width="0.3"/>
<polygon points="137.59,649.88 141.53,653.82 137.59,657.76 133.66,653.82" fill="#fff5f5" stroke="#fff5f5" stroke-width="0.3"/>
<polygon points="141.53,653.82 145.46,657.76 141.53,661.69 137.59,657.76" fill="#ffe8e8" stroke="#ffe8e8" stroke-width="0.3"/>
<polygon points="145.46,657.76 149.4,661.69 145.46,665.62 141.53,661.69" fill="#f0f0ff" stroke="#f0f0ff" stroke-width="0.3"/>
<polygon points="149.4,661.69 153.33,665.62 149.4,669.56 145.46,665.62" fill="#fafaff" stroke="#fafaff" stroke-width="0.3"/>
<polygon points="153.33,665.62 157.26,669.56 153.33,673.5 149.39,669.56" fill="#ffe8e8" stroke="#ffe8e8" stroke-width="0.3"/>
<polygon points="157.26,669.56 161.2,673.5 157.26,677.43 153.33,673.5" fill="#f5f5ff" stroke="#f5f5ff" stroke-width="0.3"/>
<polygon points="161.2,673.5 165.13,677.43 161.2,681.37 157.26,677.43" fill="#f0f0ff" stroke="#f0f0ff" stroke-width="0.3"/>
<polygon points="165.13,677.43 169.07,681.37 165.13,685.3 161.2,681.37" fill="#ffe0e0" stroke="#ffe0e0" stroke-width="0.3"/>
<polygon points="169.07,681.37 173,685.3 169.07,689.24 165.13,685.3" fill="#fff0f0" stroke="#fff0f0" stroke-width="0.3"/>
<polygon points="173,685.3 176.94,689.24 173,693.17 169.07,689.24" fill="#ffe0e0" stroke="#ffe0e0" stroke-width="0.3"/>
<polygon points="176.94,689.24 180.88,693.17 176.94,697.11 173,693.17" fill="#fff8f8" stroke="#fff8f8" stroke-width="0.3"/>
<polygon points="180.88,693.17 184.81,697.11 180.88,701.04 176.94,697.11" fill="#fff5f5" stroke="#fff5f5" stroke-width="0.3"/>
<polygon points="184.81,697.11 188.75,701.04 184.81,704.98 180.88,701.04" fill="#fff0f0" stroke="#fff0f0" stroke-width="0.3"/>
<polygon points="102.17,606.6 106.11,610.54 102.17,614.47 98.24,610.54" fill="#ffc0c0" stroke="#ffc0c0" stroke-width="0.3"/>
<polygon points="106.11,610.54 110.05,614.47 106.11,618.4 102.17,614.47" fill="#ffd0d0" stroke="#ffd0d0" stroke-width="0.3"/>
<polygon points="110.04,614.47 113.98,618.4 110.04,622.34 106.11,618.4" fill="#f0f0ff" stroke="#f0f0ff" stroke-width="0.3"/>
<polygon points="113.98,618.4 117.91,622.34 113.98,626.28 110.04,622.34" fill="#f8f8ff" stroke="#f8f8ff" stroke-width="0.3"/>
<polygon points="117.91,622.34 121.85,626.28 117.91,630.21 113.98,626.28" fill="#fafaff" stroke="#fafaff" stroke-width="0.3"/>
<polygon points="121.85,626.28 125.78,630.21 121.85,634.14 117.91,630.21" fill="#ffeaea" stroke="#ffeaea" stroke-width="0.3"/>
<polygon points="125.78,630.21 129.72,634.14 125.78,638.08 121.85,634.14" fill="#fff5f5" stroke="#fff5f5" stroke-width="0.3"/>
<polygon points="129.72,634.14 133.66,638.08 129.72,642.02 125.78,638.08" fill="#f5f5ff" stroke="#f5f5ff" stroke-width="0.3"/>
<polygon points="133.66,638.08 137.59,642.02 133.66,645.95 129.72,642.02" fill="#f0f0ff" stroke="#f0f0ff" stroke-width="0.3"/>
<polygon points="137.59,642.02 141.53,645.95 137.59,649.88 133.66,645.95" fill="#f5f5ff" stroke="#f5f5ff" stroke-width="0.3"/>
<polygon points="141.53,645.95 145.46,649.88 141.53,653.82 137.59,649.88" fill="#fff5f5" stroke="#fff5f5" stroke-width="0.3"/>
<polygon points="145.46,649.88 149.4,653.82 145.46,657.76 141.53,653.82" fill="#fafaff" stroke="#fafaff" stroke-width="0.3"/>
<polygon points="149.4,653.82 153.33,657.76 149.4,661.69 145.46,657.76" fill="#f8f8ff" stroke="#f8f8ff" stroke-width="0.3"/>
<polygon points="153.33,657.76 157.27,661.69 153.33,665.62 149.4,661.69" fill="#ffe8e8" stroke="#ffe8e8" stroke-width="0.3"/>
<polygon points="157.26,661.69 161.2,665.62 157.26,669.56 153.33,665.62" fill="#ffe8e8" stroke="#ffe8e8" stroke-width="0.3"/>
<polygon points="161.2,665.62 165.13,669.56 161.2,673.5 157.26,669.56" fill="#ffeaea" stroke="#ffeaea" stroke-width="0.3"/>
<polygon points="165.13,669.56 169.07,673.5 165.13,677.43 161.2,673.5" fill="#ffeaea" stroke="#ffeaea" stroke-width="0.3"/>
<polygon points="169.07,673.5 173,677.43 169.07,681.37 165.13,677.43" fill="#ffe8e8" stroke="#ffe8e8" stroke-width="0.3"/>
<polygon points="173,677.43 176.94,681.37 173,685.3 169.07,681.37" fill="#ffeaea" stroke="#ffeaea" stroke-width="0.3"/>
<polygon points="176.94,681.37 180.88,685.3 176.94,689.24 173,685.3" fill="#ffdcdc" stroke="#ffdcdc" stroke-width="0.3"/>
<polygon points="180.88,685.3 184.81,689.24 180.88,693.17 176.94,689.24" fill="#fff5f5" stroke="#fff5f5" stroke-width="0.3"/>
<polygon points="184.81,689.24 188.75,693.17 184.81,697.11 180.88,693.17" fill="#fff0f0" stroke="#fff0f0" stroke-width="0.3"/>
<polygon points="188.75,693.17 192.68,697.11 188.75,701.04 184.81,697.11" fill="#fff0f0" stroke="#fff0f0" stroke-width="0.3"/>
<polygon points="110.05,606.6 113.98,610.54 110.05,614.47 106.11,610.54" fill="#ff7070" stroke="#ff7070" stroke-width="0.3"/>
<polygon points="113.98,610.54 117.91,614.47 113.98,618.4 110.04,614.47" fill="#fff2f2" stroke="#fff2f2" stroke-width="0.3"/>
<polygon points="117.91,614.47 121.85,618.4 117.91,622.34 113.98,618.4" fill="#ffdada" stroke="#ffdada" stroke-width="0.3"/>
<polygon points="121.85,618.4 125.78,622.34 121.85,626.28 117.91,622.34" fill="#ffe8e8" stroke="#ffe8e8" stroke-width="0.3"/>
<polygon points="125.78,622.34 129.72,626.28 125.78,630.21 121.85,626.28" fill="#ffeaea" stroke="#ffeaea" stroke-width="0.3"/>
<polygon points="129.72,626.28 133.66,630.21 129.72,634.14 125.78,630.21" fill="#ffe0e0" stroke="#ffe0e0" stroke-width="0.3"/>
<polygon points="133.66,630.21 137.59,634.14 133.66,638.08 129.72,634.14" fill="#ffeaea" stroke="#ffeaea" stroke-width="0.3"/>
<polygon points="137.59,634.14 141.53,638.08 137.59,642.02 133.66,638.08" fill="#fff5f5" stroke="#fff5f5" stroke-width="0.3"/>
<polygon points="141.53,638.08 145.46,642.02 141.53,645.95 137.59,642.02" fill="#fff8f8" stroke="#fff8f8" stroke-width="0.3"/>
<polygon points="145.46,642.02 149.4,645.95 145.46,649.88 141.53,645.95" fill="#fff0f0" stroke="#fff0f0" stroke-width="0.3"/>
<polygon points="149.4,645.95 153.33,649.88 149.4,653.82 145.46,649.88" fill="#ffe0e0" stroke="#ffe0e0" stroke-width="0.3"/>
<polygon points="153.33,649.88 157.27,653.82 153.33,657.76 149.4,653.82" fill="#ffeaea" stroke="#ffeaea" stroke-width="0.3"/>
<polygon points="157.27,653.82 161.2,657.76 157.27,661.69 153.33,657.76" fill="#ffe0e0" stroke="#ffe0e0" stroke-width="0.3"/>
<polygon points="161.2,657.76 165.13,661.69 161.2,665.62 157.26,661.69" fill="#ffe0e0" stroke="#ffe0e0" stroke-width="0.3"/>
<polygon points="165.13,661.69 169.07,665.62 165.13,669.56 161.2,665.62" fill="#ffe0e0" stroke="#ffe0e0" stroke-width="0.3"/>
<polygon points="169.07,665.62 173,669.56 169.07,673.5 165.13,669.56" fill="#ffe8e8" stroke="#ffe8e8" stroke-width="0.3"/>
<polygon points="173,669.56 176.94,673.5 173,677.43 169.07,673.5" fill="#ffe8e8" stroke="#ffe8e8" stroke-width="0.3"/>
<polygon points="176.94,673.5 180.88,677.43 176.94,681.37 173,677.43" fill="#ffe0e0" stroke="#ffe0e0" stroke-width="0.3"/>
<polygon points="180.88,677.43 184.81,681.37 180.88,685.3 176.94,681.37" fill="#ffd0d0" stroke="#ffd0d0" stroke-width="0.3"/>
<polygon points="184.81,681.37 188.75,685.3 184.81,689.24 180.88,685.3" fill="#ffe0e0" stroke="#ffe0e0" stroke-width="0.3"/>
<polygon points="188.75,685.3 192.68,689.24 188.75,693.17 184.81,689.24" fill="#ffe8e8" stroke="#ffe8e8" stroke-width="0.3"/>
<polygon points="192.68,689.24 196.62,693.17 192.68,697.11 188.75,693.17" fill="#ffe8e8" stroke="#ffe8e8" stroke-width="0.3"/>
<polygon points="117.91,606.6 121.85,610.54 117.91,614.47 113.98,610.54" fill="#fffafa" stroke="#fffafa" stroke-width="0.3"/>
<polygon points="121.85,610.54 125.78,614.47 121.85,618.4 117.91,614.47" fill="#ffe0e0" stroke="#ffe0e0" stroke-width="0.3"/>
<polygon points="125.78,614.47 129.72,618.4 125.78,622.34 121.85,618.4" fill="#ffe8e8" stroke="#ffe8e8" stroke-width="0.3"/>
<polygon points="129.72,618.4 133.66,622.34 129.72,626.28 125.78,622.34" fill="#ffe0e0" stroke="#ffe0e0" stroke-width="0.3"/>
<polygon points="133.66,622.34 137.59,626.28 133.66,630.21 129.72,626.28" fill="#ffe0e0" stroke="#ffe0e0" stroke-width="0.3"/>
<polygon points="137.59,626.28 141.53,630.21 137.59,634.14 133.66,630.21" fill="#fff0f0" stroke="#fff0f0" stroke-width="0.3"/>
<polygon points="141.53,630.21 145.46,634.14 141.53,638.08 137.59,634.14" fill="#fff5f5" stroke="#fff5f5" stroke-width="0.3"/>
<polygon points="145.46,634.14 149.4,638.08 145.46,642.02 141.53,638.08" fill="#fff0f0" stroke="#fff0f0" stroke-width="0.3"/>
<polygon points="149.4,638.08 153.33,642.02 149.4,645.95 145.46,642.02" fill="#ffeaea" stroke="#ffeaea" stroke-width="0.3"/>
<polygon points="153.33,642.02 157.27,645.95 153.33,649.88 149.4,645.95" fill="#ffeeee" stroke="#ffeeee" stroke-width="0.3"/>
<polygon points="157.27,645.95 161.2,649.88 157.27,653.82 153.33,649.88" fill="#ffe8e8" stroke="#ffe8e8" stroke-width="0.3"/>
<polygon points="161.2,649.88 165.14,653.82 161.2,657.76 157.27,653.82" fill="#ffe8e8" stroke="#ffe8e8" stroke-width="0.3"/>
<polygon points="165.13,653.82 169.07,657.76 165.13,661.69 161.2,657.76" fill="#ffdede" stroke="#ffdede" stroke-width="0.3"/>
<polygon points="169.07,657.76 173,661.69 169.07,665.62 165.13,661.69" fill="#ffe0e0" stroke="#ffe0e0" stroke-width="0.3"/>
<polygon points="173,661.69 176.94,665.62 173,669.56 169.07,665.62" fill="#ffdada" stroke="#ffdada" stroke-width="0.3"/>
<polygon points="176.94,665.62 180.88,669.56 176.94,673.5 173,669.56" fill="#ffe0e0" stroke="#ffe0e0" stroke-width="0.3"/>
<polygon points="180.88,669.56 184.81,673.5 180.88,677.43 176.94,673.5" fill="#ffe0e0" stroke="#ffe0e0" stroke-width="0.3"/>
<polygon points="184.81,673.5 188.75,677.43 184.81,681.37 180.88,677.43" fill="#ffd8d8" stroke="#ffd8d8" stroke-width="0.3"/>
<polygon points="188.75,677.43 192.68,681.37 188.75,685.3 184.81,681.37" fill="#ffe0e0" stroke="#ffe0e0" stroke-width="0.3"/>
<polygon points="192.68,681.37 196.62,685.3 192.68,689.24 188.75,685.3" fill="#ffdada" stroke="#ffdada" stroke-width="0.3"/>
<polygon points="196.62,685.3 200.55,689.24 196.62,693.17 192.68,689.24" fill="#ffe0e0" stroke="#ffe0e0" stroke-width="0.3"/>
<polygon points="125.78,606.6 129.72,610.54 125.78,614.47 121.85,610.54" fill="#ffc8c8" stroke="#ffc8c8" stroke-width="0.3"/>
<polygon points="129.72,610.54 133.66,614.47 129.72,618.4 125.78,614.47" fill="#ffb8b8" stroke="#ffb8b8" stroke-width="0.3"/>
<polygon points="133.66,614.47 137.59,618.4 133.66,622.34 129.72,618.4" fill="#ffe0e0" stroke="#ffe0e0" stroke-width="0.3"/>
<polygon points="137.59,618.4 141.52,622.34 137.59,626.28 133.65,622.34" fill="#ffd5d5" stroke="#ffd5d5" stroke-width="0.3"/>
<polygon points="141.52,622.34 145.46,626.28 141.52,630.21 137.59,626.28" fill="#ffd0d0" stroke="#ffd0d0" stroke-width="0.3"/>
<polygon points="145.46,626.28 149.39,630.21 145.46,634.14 141.52,630.21" fill="#ffd5d5" stroke="#ffd5d5" stroke-width="0.3"/>
<polygon points="149.39,630.21 153.33,634.14 149.39,638.08 145.46,634.14" fill="#ffc8c8" stroke="#ffc8c8" stroke-width="0.3"/>
<polygon points="153.33,634.14 157.26,638.08 153.33,642.02 149.39,638.08" fill="#ffd8d8" stroke="#ffd8d8" stroke-width="0.3"/>
<polygon points="157.26,638.08 161.2,642.02 157.26,645.95 153.33,642.02" fill="#ffd0d0" stroke="#ffd0d0" stroke-width="0.3"/>
<polygon points="161.2,642.02 165.13,645.95 161.2,649.88 157.26,645.95" fill="#ffe0e0" stroke="#ffe0e0" stroke-width="0.3"/>
<polygon points="165.13,645.95 169.07,649.88 165.13,653.82 161.2,649.88" fill="#ffd8d8" stroke="#ffd8d8" stroke-width="0.3"/>
<polygon points="169.07,649.88 173,653.82 169.07,657.76 165.13,653.82" fill="#ffd8d8" stroke="#ffd8d8" stroke-width="0.3"/>
<polygon points="173,653.82 176.94,657.76 173,661.69 169.07,657.76" fill="#ffd8d8" stroke="#ffd8d8" stroke-width="0.3"/>
<polygon points="176.94,657.76 180.88,661.69 176.94,665.62 173,661.69" fill="#ffd8d8" stroke="#ffd8d8" stroke-width="0.3"/>
<polygon points="180.88,661.69 184.81,665.62 180.88,669.56 176.94,665.62" fill="#ffd0d0" stroke="#ffd0d0" stroke-width="0.3"/>
<polygon points="184.81,665.62 188.75,669.56 184.81,673.5 180.88,669.56" fill="#ffd0d0" stroke="#ffd0d0" stroke-width="0.3"/>
<polygon points="188.75,669.56 192.68,673.5 188.75,677.43 184.81,673.5" fill="#ffd8d8" stroke="#ffd8d8" stroke-width="0.3"/>
<polygon points="192.68,673.5 196.62,677.43 192.68,681.37 188.75,677.43" fill="#ffd8d8" stroke="#ffd8d8" stroke-width="0.3"/>
<polygon points="196.62,677.43 200.55,681.37 196.62,685.3 192.68,681.37" fill="#ffd8d8" stroke="#ffd8d8" stroke-width="0.3"/>
<polygon points="200.55,681.37 204.49,685.3 200.55,689.24 196.62,685.3" fill="#ffd0d0" stroke="#ffd0d0" stroke-width="0.3"/>
<polygon points="133.66,606.6 137.59,610.54 133.66,614.47 129.72,610.54" fill="#ffd0d0" stroke="#ffd0d0" stroke-width="0.3"/>
<polygon points="137.59,610.54 141.53,614.47 137.59,618.4 133.66,614.47" fill="#ffd8d8" stroke="#ffd8d8" stroke-width="0.3"/>
<polygon points="141.52,614.47 145.46,618.4 141.52,622.34 137.59,618.4" fill="#ffc0c0" stroke="#ffc0c0" stroke-width="0.3"/>
<polygon points="145.46,618.4 149.39,622.34 145.46,626.28 141.52,622.34" fill="#ffcaca" stroke="#ffcaca" stroke-width="0.3"/>
<polygon points="149.39,622.34 153.33,626.28 149.39,630.21 145.46,626.28" fill="#ffc8c8" stroke="#ffc8c8" stroke-width="0.3"/>
<polygon points="153.33,626.28 157.26,630.21 153.33,634.14 149.39,630.21" fill="#ffc8c8" stroke="#ffc8c8" stroke-width="0.3"/>
<polygon points="157.26,630.21 161.2,634.14 157.26,638.08 153.33,634.14" fill="#ffe0e0" stroke="#ffe0e0" stroke-width="0.3"/>
<polygon points="161.2,634.14 165.13,638.08 161.2,642.02 157.26,638.08" fill="#ffd0d0" stroke="#ffd0d0" stroke-width="0.3"/>
<polygon points="165.13,638.08 169.07,642.02 165.13,645.95 161.2,642.02" fill="#ffe8e8" stroke="#ffe8e8" stroke-width="0.3"/>
<polygon points="169.07,642.02 173,645.95 169.07,649.88 165.13,645.95" fill="#ffeaea" stroke="#ffeaea" stroke-width="0.3"/>
<polygon points="173,645.95 176.94,649.88 173,653.82 169.07,649.88" fill="#ffd0d0" stroke="#ffd0d0" stroke-width="0.3"/>
<polygon points="176.94,649.88 180.88,653.82 176.94,657.76 173,653.82" fill="#ffd0d0" stroke="#ffd0d0" stroke-width="0.3"/>
<polygon points="180.88,653.82 184.81,657.76 180.88,661.69 176.94,657.76" fill="#ffc8c8" stroke="#ffc8c8" stroke-width="0.3"/>
<polygon points="184.81,657.76 188.75,661.69 184.81,665.62 180.88,661.69" fill="#ffc0c0" stroke="#ffc0c0" stroke-width="0.3"/>
<polygon points="188.75,661.69 192.68,665.62 188.75,669.56 184.81,665.62" fill="#ffd0d0" stroke="#ffd0d0" stroke-width="0.3"/>
<polygon points="192.68,665.62 196.62,669.56 192.68,673.5 188.75,669.56" fill="#ffd0d0" stroke="#ffd0d0" stroke-width="0.3"/>
<polygon points="196.62,669.56 200.55,673.5 196.62,677.43 192.68,673.5" fill="#ffcccc" stroke="#ffcccc" stroke-width="0.3"/>
<polygon points="200.55,673.5 204.49,677.43 200.55,681.37 196.62,677.43" fill="#ffd0d0" stroke="#ffd0d0" stroke-width="0.3"/>
<polygon points="204.49,677.43 208.42,681.37 204.49,685.3 200.55,681.37" fill="#ffc0c0" stroke="#ffc0c0" stroke-width="0.3"/>
<polygon points="141.53,606.6 145.46,610.54 141.53,614.47 137.59,610.54" fill="#ffcccc" stroke="#ffcccc" stroke-width="0.3"/>
<polygon points="145.46,610.54 149.39,614.47 145.46,618.4 141.52,614.47" fill="#ffdada" stroke="#ffdada" stroke-width="0.3"/>
<polygon points="149.39,614.47 153.33,618.4 149.39,622.34 145.46,618.4" fill="#ffd8d8" stroke="#ffd8d8" stroke-width="0.3"/>
<polygon points="153.33,618.4 157.26,622.34 153.33,626.28 149.39,622.34" fill="#ffd5d5" stroke="#ffd5d5" stroke-width="0.3"/>
<polygon points="157.26,622.34 161.2,626.28 157.26,630.21 153.33,626.28" fill="#ffd8d8" stroke="#ffd8d8" stroke-width="0.3"/>
<polygon points="161.2,626.28 165.13,630.21 161.2,634.14 157.26,630.21" fill="#ffe8e8" stroke="#ffe8e8" stroke-width="0.3"/>
<polygon points="165.13,630.21 169.07,634.14 165.13,638.08 161.2,634.14" fill="#ffeaea" stroke="#ffeaea" stroke-width="0.3"/>
<polygon points="169.07,634.14 173,638.08 169.07,642.02 165.13,638.08" fill="#fff0f0" stroke="#fff0f0" stroke-width="0.3"/>
<polygon points="173,638.08 176.94,642.02 173,645.95 169.07,642.02" fill="#fff0f0" stroke="#fff0f0" stroke-width="0.3"/>
<polygon points="176.94,642.02 180.88,645.95 176.94,649.88 173,645.95" fill="#ffd0d0" stroke="#ffd0d0" stroke-width="0.3"/>
<polygon points="180.88,645.95 184.81,649.88 180.88,653.82 176.94,649.88" fill="#ffd2d2" stroke="#ffd2d2" stroke-width="0.3"/>
<polygon points="184.81,649.88 188.75,653.82 184.81,657.76 180.88,653.82" fill="#ffc8c8" stroke="#ffc8c8" stroke-width="0.3"/>
<polygon points="188.75,653.82 192.68,657.76 188.75,661.69 184.81,657.76" fill="#ffd0d0" stroke="#ffd0d0" stroke-width="0.3"/>
<polygon points="192.68,657.76 196.62,661.69 192.68,665.62 188.75,661.69" fill="#ffd0d0" stroke="#ffd0d0" stroke-width="0.3"/>
<polygon points="196.62,661.69 200.55,665.62 196.62,669.56 192.68,665.62" fill="#ffd4d4" stroke="#ffd4d4" stroke-width="0.3"/>
<polygon points="200.55,665.62 204.49,669.56 200.55,673.5 196.62,669.56" fill="#ffd0d0" stroke="#ffd0d0" stroke-width="0.3"/>
<polygon points="204.49,669.56 208.42,673.5 204.49,677.43 200.55,673.5" fill="#ffd8d8" stroke="#ffd8d8" stroke-width="0.3"/>
<polygon points="208.42,673.5 212.36,677.43 208.42,681.37 204.49,677.43" fill="#ffe0e0" stroke="#ffe0e0" stroke-width="0.3"/>
<polygon points="149.39,606.6 153.33,610.54 149.39,614.47 145.46,610.54" fill="#ffd0d0" stroke="#ffd0d0" stroke-width="0.3"/>
<polygon points="153.33,610.54 157.26,614.47 153.33,618.4 149.39,614.47" fill="#ffcaca" stroke="#ffcaca" stroke-width="0.3"/>
<polygon points="157.26,614.47 161.2,618.4 157.26,622.34 153.33,618.4" fill="#fff5f5" stroke="#fff5f5" stroke-width="0.3"/>
<polygon points="161.2,618.4 165.13,622.34 161.2,626.28 157.26,622.34" fill="#ffd0d0" stroke="#ffd0d0" stroke-width="0.3"/>
<polygon points="165.13,622.34 169.07,626.28 165.13,630.21 161.2,626.28" fill="#ffe8e8" stroke="#ffe8e8" stroke-width="0.3"/>
<polygon points="169.07,626.28 173,630.21 169.07,634.14 165.13,630.21" fill="#fff0f0" stroke="#fff0f0" stroke-width="0.3"/>
<polygon points="173,630.21 176.94,634.14 173,638.08 169.07,634.14" fill="#ffe0e0" stroke="#ffe0e0" stroke-width="0.3"/>
<polygon points="176.94,634.14 180.88,638.08 176.94,642.02 173,638.08" fill="#ffd8d8" stroke="#ffd8d8" stroke-width="0.3"/>
<polygon points="180.88,638.08 184.81,642.02 180.88,645.95 176.94,642.02" fill="#ffd0d0" stroke="#ffd0d0" stroke-width="0.3"/>
<polygon points="184.81,642.02 188.75,645.95 184.81,649.88 180.88,645.95" fill="#ffc4c4" stroke="#ffc4c4" stroke-width="0.3"/>
<polygon points="188.75,645.95 192.68,649.88 188.75,653.82 184.81,649.88" fill="#ffc0c0" stroke="#ffc0c0" stroke-width="0.3"/>
<polygon points="192.68,649.88 196.62,653.82 192.68,657.76 188.75,653.82" fill="#ffcccc" stroke="#ffcccc" stroke-width="0.3"/>
<polygon points="196.62,653.82 200.55,657.76 196.62,661.69 192.68,657.76" fill="#ffc8c8" stroke="#ffc8c8" stroke-width="0.3"/>
<polygon points="200.55,657.76 204.49,661.69 200.55,665.62 196.62,661.69" fill="#ffc0c0" stroke="#ffc0c0" stroke-width="0.3"/>
<polygon points="204.49,661.69 208.42,665.62 204.49,669.56 200.55,665.62" fill="#ffd0d0" stroke="#ffd0d0" stroke-width="0.3"/>
<polygon points="208.42,665.62 212.36,669.56 208.42,673.5 204.49,669.56" fill="#ffd8d8" stroke="#ffd8d8" stroke-width="0.3"/>
<polygon points="212.36,669.56 216.29,673.5 212.36,677.43 208.42,673.5" fill="#ffd0d0" stroke="#ffd0d0" stroke-width="0.3"/>
<polygon points="157.26,606.6 161.2,610.54 157.26,614.47 153.33,610.54" fill="#ffc8c8" stroke="#ffc8c8" stroke-width="0.3"/>
<polygon points="161.2,610.54 165.13,614.47 161.2,618.4 157.26,614.47" fill="#ffc0c0" stroke="#ffc0c0" stroke-width="0.3"/>
<polygon points="165.13,614.47 169.07,618.4 165.13,622.34 161.2,618.4" fill="#ffc8c8" stroke="#ffc8c8" stroke-width="0.3"/>
<polygon points="169.07,618.4 173,622.34 169.07,626.28 165.13,622.34" fill="#ffcccc" stroke="#ffcccc" stroke-width="0.3"/>
<polygon points="173,622.34 176.94,626.28 173,630.21 169.07,626.28" fill="#ffd8d8" stroke="#ffd8d8" stroke-width="0.3"/>
<polygon points="176.94,626.28 180.88,630.21 176.94,634.14 173,630.21" fill="#ffd8d8" stroke="#ffd8d8" stroke-width="0.3"/>
<polygon points="180.88,630.21 184.81,634.14 180.88,638.08 176.94,634.14" fill="#ffe4e4" stroke="#ffe4e4" stroke-width="0.3"/>
<polygon points="184.81,634.14 188.75,638.08 184.81,642.02 180.88,638.08" fill="#ffbcbc" stroke="#ffbcbc" stroke-width="0.3"/>
<polygon points="188.75,638.08 192.68,642.02 188.75,645.95 184.81,642.02" fill="#ffb8b8" stroke="#ffb8b8" stroke-width="0.3"/>
<polygon points="192.68,642.02 196.62,645.95 192.68,649.88 188.75,645.95" fill="#ffb8b8" stroke="#ffb8b8" stroke-width="0.3"/>
<polygon points="196.62,645.95 200.55,649.88 196.62,653.82 192.68,649.88" fill="#ffb8b8" stroke="#ffb8b8" stroke-width="0.3"/>
<polygon points="200.55,649.88 204.49,653.82 200.55,657.76 196.62,653.82" fill="#ffd0d0" stroke="#ffd0d0" stroke-width="0.3"/>
<polygon points="204.49,653.82 208.42,657.76 204.49,661.69 200.55,657.76" fill="#ffc0c0" stroke="#ffc0c0" stroke-width="0.3"/>
<polygon points="208.42,657.76 212.35,661.69 208.42,665.62 204.48,661.69" fill="#ffd0d0" stroke="#ffd0d0" stroke-width="0.3"/>
<polygon points="212.35,661.69 216.29,665.62 212.35,669.56 208.42,665.62" fill="#ffb8b8" stroke="#ffb8b8" stroke-width="0.3"/>
<polygon points="216.29,665.62 220.22,669.56 216.29,673.5 212.35,669.56" fill="#ffb8b8" stroke="#ffb8b8" stroke-width="0.3"/>
<polygon points="165.13,606.6 169.07,610.54 165.13,614.47 161.2,610.54" fill="#ffbcbc" stroke="#ffbcbc" stroke-width="0.3"/>
<polygon points="169.07,610.54 173,614.47 169.07,618.4 165.13,614.47" fill="#ffcfcf" stroke="#ffcfcf" stroke-width="0.3"/>
<polygon points="173,614.47 176.94,618.4 173,622.34 169.07,618.4" fill="#fff0f0" stroke="#fff0f0" stroke-width="0.3"/>
<polygon points="176.94,618.4 180.88,622.34 176.94,626.28 173,622.34" fill="#ffd0d0" stroke="#ffd0d0" stroke-width="0.3"/>
<polygon points="180.88,622.34 184.81,626.28 180.88,630.21 176.94,626.28" fill="#ffe0e0" stroke="#ffe0e0" stroke-width="0.3"/>
<polygon points="184.81,626.28 188.75,630.21 184.81,634.14 180.88,630.21" fill="#ffe0e0" stroke="#ffe0e0" stroke-width="0.3"/>
<polygon points="188.75,630.21 192.68,634.14 188.75,638.08 184.81,634.14" fill="#ffbcbc" stroke="#ffbcbc" stroke-width="0.3"/>
<polygon points="192.68,634.14 196.62,638.08 192.68,642.02 188.75,638.08" fill="#ffb8b8" stroke="#ffb8b8" stroke-width="0.3"/>
<polygon points="196.62,638.08 200.55,642.02 196.62,645.95 192.68,642.02" fill="#ffc0c0" stroke="#ffc0c0" stroke-width="0.3"/>
<polygon points="200.55,642.02 204.49,645.95 200.55,649.88 196.62,645.95" fill="#ffc8c8" stroke="#ffc8c8" stroke-width="0.3"/>
<polygon points="204.49,645.95 208.42,649.88 204.49,653.82 200.55,649.88" fill="#ffc8c8" stroke="#ffc8c8" stroke-width="0.3"/>
<polygon points="208.42,649.88 212.36,653.82 208.42,657.76 204.49,653.82" fill="#ffc8c8" stroke="#ffc8c8" stroke-width="0.3"/>
<polygon points="212.35,653.82 216.29,657.76 212.35,661.69 208.42,657.76" fill="#ffd0d0" stroke="#ffd0d0" stroke-width="0.3"/>
<polygon points="216.29,657.76 220.22,661.69 216.29,665.62 212.35,661.69" fill="#ffd8d8" stroke="#ffd8d8" stroke-width="0.3"/>
<polygon points="220.22,661.69 224.16,665.62 220.22,669.56 216.29,665.62" fill="#ffd0d0" stroke="#ffd0d0" stroke-width="0.3"/>
<polygon points="173,606.6 176.94,610.54 173,614.47 169.07,610.54" fill="#ffd0d0" stroke="#ffd0d0" stroke-width="0.3"/>
<polygon points="176.94,610.54 180.88,614.47 176.94,618.4 173,614.47" fill="#ffd0d0" stroke="#ffd0d0" stroke-width="0.3"/>
<polygon points="180.88,614.47 184.81,618.4 180.88,622.34 176.94,618.4" fill="#ffe0e0" stroke="#ffe0e0" stroke-width="0.3"/>
<polygon points="184.81,618.4 188.75,622.34 184.81,626.28 180.88,622.34" fill="#ffe0e0" stroke="#ffe0e0" stroke-width="0.3"/>
<polygon points="188.75,622.34 192.68,626.28 188.75,630.21 184.81,626.28" fill="#ffd0d0" stroke="#ffd0d0" stroke-width="0.3"/>
<polygon points="192.68,626.28 196.62,630.21 192.68,634.14 188.75,630.21" fill="#ffe0e0" stroke="#ffe0e0" stroke-width="0.3"/>
<polygon points="196.62,630.21 200.55,634.14 196.62,638.08 192.68,634.14" fill="#ffd0d0" stroke="#ffd0d0" stroke-width="0.3"/>
<polygon points="200.55,634.14 204.49,638.08 200.55,642.02 196.62,638.08" fill="#ffc8c8" stroke="#ffc8c8" stroke-width="0.3"/>
<polygon points="204.49,638.08 208.42,642.02 204.49,645.95 200.55,642.02" fill="#ffc8c8" stroke="#ffc8c8" stroke-width="0.3"/>
<polygon points="208.42,642.02 212.36,645.95 208.42,649.88 204.49,645.95" fill="#ffc0c0" stroke="#ffc0c0" stroke-width="0.3"/>
<polygon points="212.36,645.95 216.29,649.88 212.36,653.82 208.42,649.88" fill="#ffc0c0" stroke="#ffc0c0" stroke-width="0.3"/>
<polygon points="216.29,649.88 220.22,653.82 216.29,657.76 212.35,653.82" fill="#ffe0e0" stroke="#ffe0e0" stroke-width="0.3"/>
<polygon points="220.22,653.82 224.16,657.76 220.22,661.69 216.29,657.76" fill="#ffe0e0" stroke="#ffe0e0" stroke-width="0.3"/>
<polygon points="224.16,657.76 228.09,661.69 224.16,665.62 220.22,661.69" fill="#ffd0d0" stroke="#ffd0d0" stroke-width="0.3"/>
<polygon points="180.88,606.6 184.81,610.54 180.88,614.47 176.94,610.54" fill="#ffdcdc" stroke="#ffdcdc" stroke-width="0.3"/>
<polygon points="184.81,610.54 188.75,614.47 184.81,618.4 180.88,614.47" fill="#ffd8d8" stroke="#ffd8d8" stroke-width="0.3"/>
<polygon points="188.75,614.47 192.68,618.4 188.75,622.34 184.81,618.4" fill="#ffdada" stroke="#ffdada" stroke-width="0.3"/>
<polygon points="192.68,618.4 196.62,622.34 192.68,626.28 188.75,622.34" fill="#ffd0d0" stroke="#ffd0d0" stroke-width="0.3"/>
<polygon points="196.62,622.34 200.55,626.28 196.62,630.21 192.68,626.28" fill="#ffd8d8" stroke="#ffd8d8" stroke-width="0.3"/>
<polygon points="200.55,626.28 204.49,630.21 200.55,634.14 196.62,630.21" fill="#ffcccc" stroke="#ffcccc" stroke-width="0.3"/>
<polygon points="204.49,630.21 208.42,634.14 204.49,638.08 200.55,634.14" fill="#ffc8c8" stroke="#ffc8c8" stroke-width="0.3"/>
<polygon points="208.42,634.14 212.36,638.08 208.42,642.02 204.49,638.08" fill="#ffd0d0" stroke="#ffd0d0" stroke-width="0.3"/>
<polygon points="212.36,638.08 216.29,642.02 212.36,645.95 208.42,642.02" fill="#ffd0d0" stroke="#ffd0d0" stroke-width="0.3"/>
<polygon points="216.29,642.02 220.23,645.95 216.29,649.88 212.36,645.95" fill="#ffd0d0" stroke="#ffd0d0" stroke-width="0.3"/>
<polygon points="220.22,645.95 224.16,649.88 220.22,653.82 216.29,649.88" fill="#ffd0d0" stroke="#ffd0d0" stroke-width="0.3"/>
<polygon points="224.16,649.88 228.09,653.82 224.16,657.76 220.22,653.82" fill="#ffc8c8" stroke="#ffc8c8" stroke-width="0.3"/>
<polygon points="228.09,653.82 232.03,657.76 228.09,661.69 224.16,657.76" fill="#ffc8c8" stroke="#ffc8c8" stroke-width="0.3"/>
<polygon points="188.75,606.6 192.68,610.54 188.75,614.47 184.81,610.54" fill="#ffe5e5" stroke="#ffe5e5" stroke-width="0.3"/>
<polygon points="192.68,610.54 196.62,614.47 192.68,618.4 188.75,614.47" fill="#ffd8d8" stroke="#ffd8d8" stroke-width="0.3"/>
<polygon points="196.62,614.47 200.55,618.4 196.62,622.34 192.68,618.4" fill="#fff8f8" stroke="#fff8f8" stroke-width="0.3"/>
<polygon points="200.55,618.4 204.49,622.34 200.55,626.28 196.62,622.34" fill="#ffd5d5" stroke="#ffd5d5" stroke-width="0.3"/>
<polygon points="204.49,622.34 208.42,626.28 204.49,630.21 200.55,626.28" fill="#ffe0e0" stroke="#ffe0e0" stroke-width="0.3"/>
<polygon points="208.42,626.28 212.36,630.21 208.42,634.14 204.49,630.21" fill="#ffdcdc" stroke="#ffdcdc" stroke-width="0.3"/>
<polygon points="212.36,630.21 216.29,634.14 212.36,638.08 208.42,634.14" fill="#ffd8d8" stroke="#ffd8d8" stroke-width="0.3"/>
<polygon points="216.29,634.14 220.23,638.08 216.29,642.02 212.36,638.08" fill="#ffc8c8" stroke="#ffc8c8" stroke-width="0.3"/>
<polygon points="220.23,638.08 224.16,642.02 220.23,645.95 216.29,642.02" fill="#ffc0c0" stroke="#ffc0c0" stroke-width="0.3"/>
<polygon points="224.16,642.02 228.09,645.95 224.16,649.88 220.22,645.95" fill="#ffc8c8" stroke="#ffc8c8" stroke-width="0.3"/>
<polygon points="228.09,645.95 232.03,649.88 228.09,653.82 224.16,649.88" fill="#ffd8d8" stroke="#ffd8d8" stroke-width="0.3"/>
<polygon points="232.03,649.88 235.97,653.82 232.03,657.76 228.09,653.82" fill="#ffdcdc" stroke="#ffdcdc" stroke-width="0.3"/>
<polygon points="196.62,606.6 200.55,610.54 196.62,614.47 192.68,610.54" fill="#ffb5b5" stroke="#ffb5b5" stroke-width="0.3"/>
<polygon points="200.55,610.54 204.49,614.47 200.55,618.4 196.62,614.47" fill="#ffd0d0" stroke="#ffd0d0" stroke-width="0.3"/>
<polygon points="204.49,614.47 208.42,618.4 204.49,622.34 200.55,618.4" fill="#ffd0d0" stroke="#ffd0d0" stroke-width="0.3"/>
<polygon points="208.42,618.4 212.36,622.34 208.42,626.28 204.49,622.34" fill="#ffdada" stroke="#ffdada" stroke-width="0.3"/>
<polygon points="212.36,622.34 216.29,626.28 212.36,630.21 208.42,626.28" fill="#ffd5d5" stroke="#ffd5d5" stroke-width="0.3"/>
<polygon points="216.29,626.28 220.23,630.21 216.29,634.14 212.36,630.21" fill="#ffe0e0" stroke="#ffe0e0" stroke-width="0.3"/>
<polygon points="220.23,630.21 224.16,634.14 220.23,638.08 216.29,634.14" fill="#ffd0d0" stroke="#ffd0d0" stroke-width="0.3"/>
<polygon points="224.16,634.14 228.1,638.08 224.16,642.02 220.23,638.08" fill="#ffd0d0" stroke="#ffd0d0" stroke-width="0.3"/>
<polygon points="228.09,638.08 232.03,642.02 228.09,645.95 224.16,642.02" fill="#ffd8d8" stroke="#ffd8d8" stroke-width="0.3"/>
<polygon points="232.03,642.02 235.97,645.95 232.03,649.88 228.09,645.95" fill="#ffe0e0" stroke="#ffe0e0" stroke-width="0.3"/>
<polygon points="235.97,645.95 239.9,649.88 235.97,653.82 232.03,649.88" fill="#ffe8e8" stroke="#ffe8e8" stroke-width="0.3"/>
<polygon points="204.49,606.6 208.42,610.54 204.49,614.47 200.55,610.54" fill="#fff0f0" stroke="#fff0f0" stroke-width="0.3"/>
<polygon points="208.42,610.54 212.36,614.47 208.42,618.4 204.49,614.47" fill="#ffe0e0" stroke="#ffe0e0" stroke-width="0.3"/>
<polygon points="212.36,614.47 216.29,618.4 212.36,622.34 208.42,618.4" fill="#ffe0e0" stroke="#ffe0e0" stroke-width="0.3"/>
<polygon points="216.29,618.4 220.23,622.34 216.29,626.28 212.36,622.34" fill="#ffd8d8" stroke="#ffd8d8" stroke-width="0.3"/>
<polygon points="220.23,622.34 224.16,626.28 220.23,630.21 216.29,626.28" fill="#ffe0e0" stroke="#ffe0e0" stroke-width="0.3"/>
<polygon points="224.16,626.28 228.1,630.21 224.16,634.14 220.23,630.21" fill="#ffe8e8" stroke="#ffe8e8" stroke-width="0.3"/>
<polygon points="228.1,630.21 232.03,634.14 228.1,638.08 224.16,634.14" fill="#ffe0e0" stroke="#ffe0e0" stroke-width="0.3"/>
<polygon points="232.03,634.14 235.97,638.08 232.03,642.02 228.09,638.08" fill="#ffe0e0" stroke="#ffe0e0" stroke-width="0.3"/>
<polygon points="235.97,638.08 239.9,642.02 235.97,645.95 232.03,642.02" fill="#ffe0e0" stroke="#ffe0e0" stroke-width="0.3"/>
<polygon points="239.9,642.02 243.84,645.95 239.9,649.88 235.97,645.95" fill="#fff0f0" stroke="#fff0f0" stroke-width="0.3"/>
<polygon points="212.36,606.6 216.29,610.54 212.36,614.47 208.42,610.54" fill="#ffe0e0" stroke="#ffe0e0" stroke-width="0.3"/>
<polygon points="216.29,610.54 220.23,614.47 216.29,618.4 212.36,614.47" fill="#ffe0e0" stroke="#ffe0e0" stroke-width="0.3"/>
<polygon points="220.23,614.47 224.16,618.4 220.23,622.34 216.29,618.4" fill="#ffd5d5" stroke="#ffd5d5" stroke-width="0.3"/>
<polygon points="224.16,618.4 228.1,622.34 224.16,626.28 220.23,622.34" fill="#ffd0d0" stroke="#ffd0d0" stroke-width="0.3"/>
<polygon points="228.1,622.34 232.03,626.28 228.1,630.21 224.16,626.28" fill="#fff5f5" stroke="#fff5f5" stroke-width="0.3"/>
<polygon points="232.03,626.28 235.97,630.21 232.03,634.14 228.1,630.21" fill="#fff0f0" stroke="#fff0f0" stroke-width="0.3"/>
<polygon points="235.97,630.21 239.9,634.14 235.97,638.08 232.03,634.14" fill="#fff0f0" stroke="#fff0f0" stroke-width="0.3"/>
<polygon points="239.9,634.14 243.84,638.08 239.9,642.02 235.97,638.08" fill="#fff5f5" stroke="#fff5f5" stroke-width="0.3"/>
<polygon points="243.84,638.08 247.77,642.02 243.84,645.95 239.9,642.02" fill="#fff8f8" stroke="#fff8f8" stroke-width="0.3"/>
<polygon points="220.22,606.6 224.16,610.54 220.22,614.47 216.29,610.54" fill="#ff8080" stroke="#ff8080" stroke-width="0.3"/>
<polygon points="224.16,610.54 228.09,614.47 224.16,618.4 220.22,614.47" fill="#ff8888" stroke="#ff8888" stroke-width="0.3"/>
<polygon points="228.09,614.47 232.03,618.4 228.09,622.34 224.16,618.4" fill="#ff8a8a" stroke="#ff8a8a" stroke-width="0.3"/>
<polygon points="232.03,618.4 235.97,622.34 232.03,626.28 228.09,622.34" fill="#ff8080" stroke="#ff8080" stroke-width="0.3"/>
<polygon points="235.97,622.34 239.9,626.28 235.97,630.21 232.03,626.28" fill="#ff8c8c" stroke="#ff8c8c" stroke-width="0.3"/>
<polygon points="239.9,626.28 243.83,630.21 239.9,634.14 235.96,630.21" fill="#ff9090" stroke="#ff9090" stroke-width="0.3"/>
<polygon points="243.83,630.21 247.77,634.14 243.83,638.08 239.9,634.14" fill="#ff8a8a" stroke="#ff8a8a" stroke-width="0.3"/>
<polygon points="247.77,634.14 251.7,638.08 247.77,642.02 243.83,638.08" fill="#ff8888" stroke="#ff8888" stroke-width="0.3"/>
<polygon points="228.09,606.6 232.03,610.54 228.09,614.47 224.16,610.54" fill="#ff3030" stroke="#ff3030" stroke-width="0.3"/>
<polygon points="232.03,610.54 235.97,614.47 232.03,618.4 228.09,614.47" fill="#ff7070" stroke="#ff7070" stroke-width="0.3"/>
<polygon points="235.97,614.47 239.9,618.4 235.97,622.34 232.03,618.4" fill="#ff7a7a" stroke="#ff7a7a" stroke-width="0.3"/>
<polygon points="239.9,618.4 243.84,622.34 239.9,626.28 235.97,622.34" fill="#ff9090" stroke="#ff9090" stroke-width="0.3"/>
<polygon points="243.83,622.34 247.77,626.28 243.83,630.21 239.9,626.28" fill="#ff8888" stroke="#ff8888" stroke-width="0.3"/>
<polygon points="247.77,626.28 251.7,630.21 247.77,634.14 243.83,630.21" fill="#ff8888" stroke="#ff8888" stroke-width="0.3"/>
<polygon points="251.7,630.21 255.64,634.14 251.7,638.08 247.77,634.14" fill="#ff8080" stroke="#ff8080" stroke-width="0.3"/>
<polygon points="235.97,606.6 239.9,610.54 235.97,614.47 232.03,610.54" fill="#ff7a7a" stroke="#ff7a7a" stroke-width="0.3"/>
<polygon points="239.9,610.54 243.84,614.47 239.9,618.4 235.97,614.47" fill="#ff8080" stroke="#ff8080" stroke-width="0.3"/>
<polygon points="243.84,614.47 247.77,618.4 243.84,622.34 239.9,618.4" fill="#ff8080" stroke="#ff8080" stroke-width="0.3"/>
<polygon points="247.77,618.4 251.7,622.34 247.77,626.28 243.83,622.34" fill="#ff8a8a" stroke="#ff8a8a" stroke-width="0.3"/>
<polygon points="251.7,622.34 255.64,626.28 251.7,630.21 247.77,626.28" fill="#ff8080" stroke="#ff8080" stroke-width="0.3"/>
<polygon points="255.64,626.28 259.57,630.21 255.64,634.14 251.7,630.21" fill="#ff8585" stroke="#ff8585" stroke-width="0.3"/>
<polygon points="243.84,606.6 247.77,610.54 243.84,614.47 239.9,610.54" fill="#ff6a6a" stroke="#ff6a6a" stroke-width="0.3"/>
<polygon points="247.77,610.54 251.71,614.47 247.77,618.4 243.84,614.47" fill="#ff4a4a" stroke="#ff4a4a" stroke-width="0.3"/>
<polygon points="251.7,614.47 255.64,618.4 251.7,622.34 247.77,618.4" fill="#ff8c8c" stroke="#ff8c8c" stroke-width="0.3"/>
<polygon points="255.64,618.4 259.57,622.34 255.64,626.28 251.7,622.34" fill="#ff7a7a" stroke="#ff7a7a" stroke-width="0.3"/>
<polygon points="259.57,622.34 263.51,626.28 259.57,630.21 255.64,626.28" fill="#ff8585" stroke="#ff8585" stroke-width="0.3"/>
<polygon points="251.71,606.6 255.64,610.54 251.71,614.47 247.77,610.54" fill="#ff7575" stroke="#ff7575" stroke-width="0.3"/>
<polygon points="255.64,610.54 259.57,614.47 255.64,618.4 251.7,614.47" fill="#ff8080" stroke="#ff8080" stroke-width="0.3"/>
<polygon points="259.57,614.47 263.51,618.4 259.57,622.34 255.64,618.4" fill="#ff7a7a" stroke="#ff7a7a" stroke-width="0.3"/>
<polygon points="263.51,618.4 267.44,622.34 263.51,626.28 259.57,622.34" fill="#ff8080" stroke="#ff8080" stroke-width="0.3"/>
<polygon points="259.57,606.6 263.51,610.54 259.57,614.47 255.64,610.54" fill="#ff5a5a" stroke="#ff5a5a" stroke-width="0.3"/>
<polygon points="263.51,610.54 267.44,614.47 263.51,618.4 259.57,614.47" fill="#ff8a8a" stroke="#ff8a8a" stroke-width="0.3"/>
<polygon points="267.44,614.47 271.38,618.4 267.44,622.34 263.51,618.4" fill="#ff6a6a" stroke="#ff6a6a" stroke-width="0.3"/>
<polygon points="267.44,606.6 271.38,610.54 267.44,614.47 263.51,610.54" fill="#ff8a8a" stroke="#ff8a8a" stroke-width="0.3"/>
<polygon points="271.38,610.54 275.31,614.47 271.38,618.4 267.44,614.47" fill="#ff8585" stroke="#ff8585" stroke-width="0.3"/>
<polygon points="275.31,606.6 279.25,610.54 275.31,614.47 271.38,610.54" fill="#ff7070" stroke="#ff7070" stroke-width="0.3"/>
<text x="71.4" y="677" font-size="5" text-anchor="middle" fill="#111" textLength="61.3" lengthAdjust="spacingAndGlyphs">Physical Distance: 114.3 kb</text>
<text x="71.3" y="686.2" font-size="5" text-anchor="middle" fill="#111" textLength="89.2" lengthAdjust="spacingAndGlyphs">Correlation Matrix Map Type: Spearman</text>
<rect x="26.7" y="689.1" width="88.7" height="5.8" fill="url(#cm)"/>
<text x="26.7" y="705.8" font-size="5" text-anchor="middle" fill="#222">1</text>
<text x="44.4" y="705.8" font-size="5" text-anchor="middle" fill="#222">0.6</text>
<text x="62.1" y="705.8" font-size="5" text-anchor="middle" fill="#222">0.2</text>
<text x="79.7" y="705.8" font-size="5" text-anchor="middle" fill="#222">-0.2</text>
<text x="97.6" y="705.8" font-size="5" text-anchor="middle" fill="#222">-0.6</text>
<text x="114.8" y="705.8" font-size="5" text-anchor="middle" fill="#222">-1</text>
<circle cx="246.4" cy="702.4" r="1.5" fill="#e0201b" stroke="#222" stroke-width="0.5"/>
<circle cx="246.4" cy="707.5" r="1.5" fill="#3b0a6e" stroke="#8b3fd9" stroke-width="0.5"/>
<text x="255" y="703.7" font-size="3.6" fill="#555">event</text>
<text x="255" y="708.8" font-size="3.6" fill="#555" textLength="28" lengthAdjust="spacingAndGlyphs">chr7_102096952</text>
</svg>
</body></html>
